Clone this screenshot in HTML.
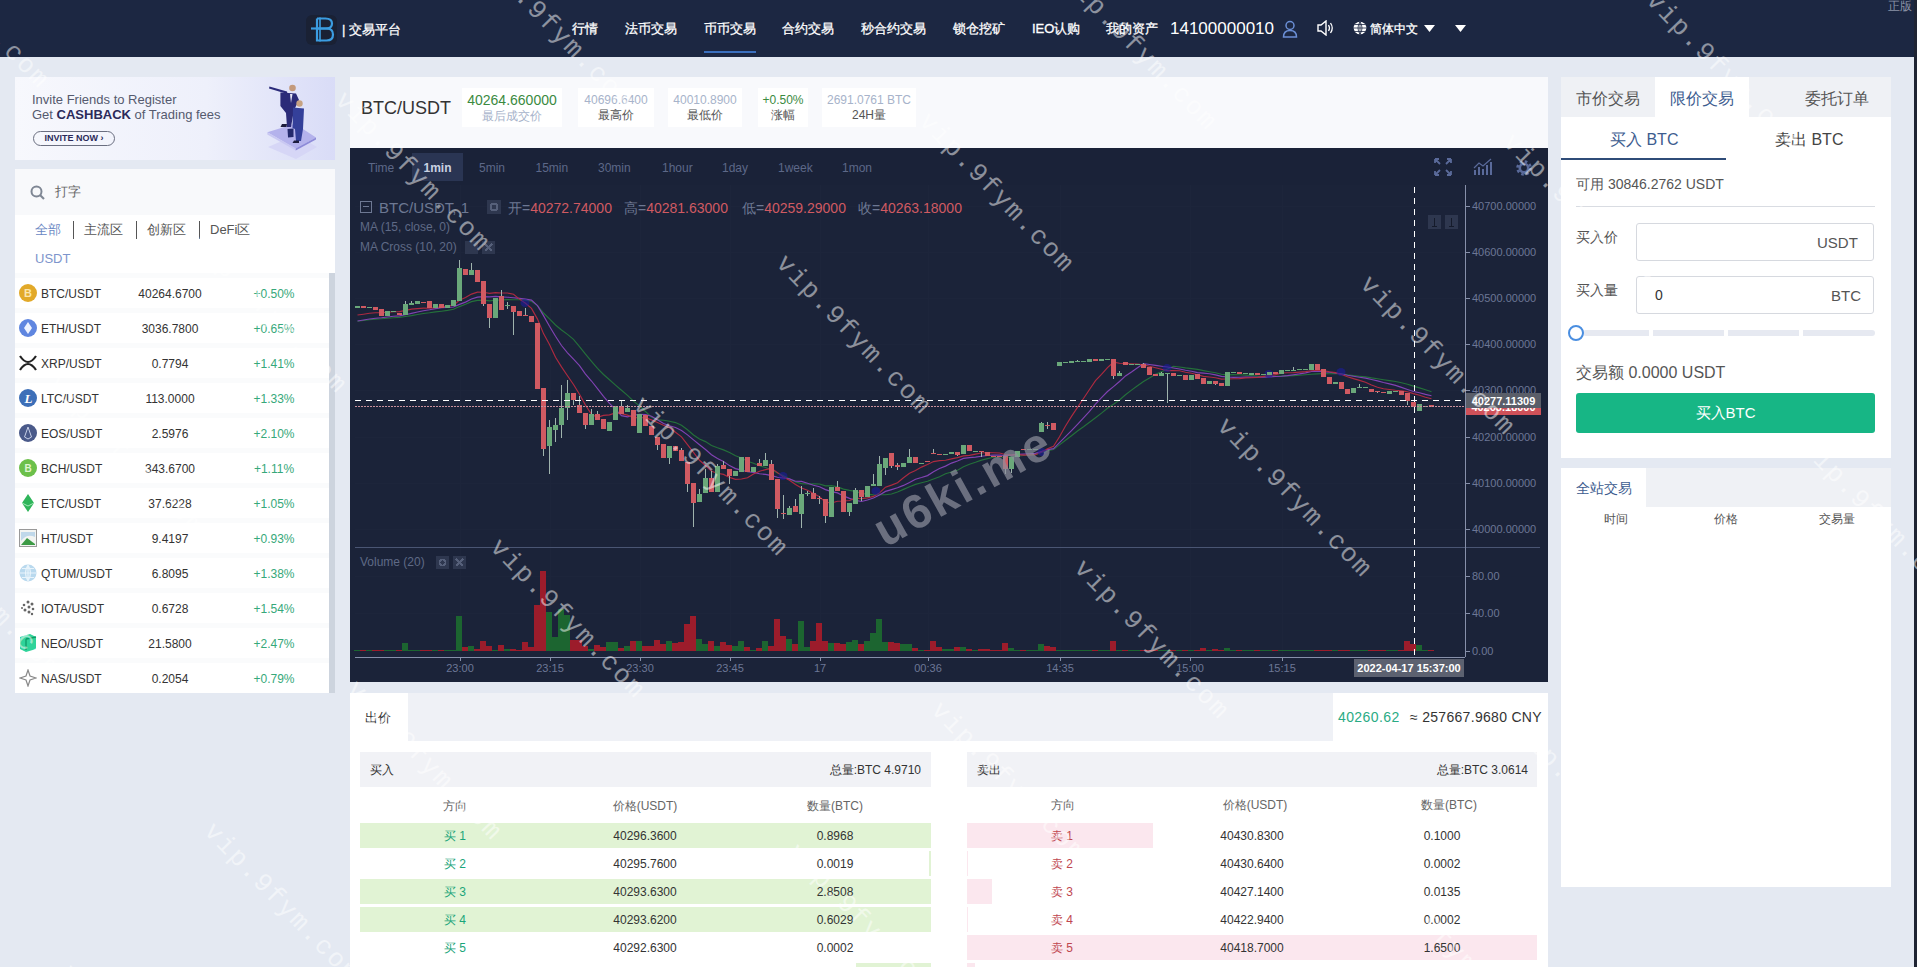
<!DOCTYPE html>
<html><head><meta charset="utf-8">
<style>
*{margin:0;padding:0;box-sizing:border-box}
html,body{width:1917px;height:967px;overflow:hidden}
body{background:#e4e9f2;font-family:"Liberation Sans",sans-serif;position:relative;color:#333}
.a{position:absolute}
.hdr{left:0;top:0;width:1917px;height:57px;background:#1c2742}
.nav{color:#fff;font-size:13px;top:21px;line-height:16px;white-space:nowrap;-webkit-text-stroke:0.3px #fff}
.panel{background:#fff}
.t12{font-size:12px}
.row{position:absolute;left:0;width:314px;height:35px;font-size:12px;color:#333}
.row span{position:absolute;top:10px;line-height:15px}
.cn{font-size:12px;color:#333;line-height:14px;white-space:nowrap}
.ob{font-size:12px;color:#333;line-height:15px;white-space:nowrap}
.obh{font-size:12px;color:#666;line-height:15px;white-space:nowrap}
</style></head><body>
<!-- header -->
<div class="a hdr">
  <svg class="a" style="left:305px;top:14px" width="33" height="32" viewBox="0 0 33 32">
    <rect x="1" y="1" width="31" height="30" rx="6" fill="#1a2134"/>
    <g fill="none" stroke="#3b9de2" stroke-width="2.2">
      <path d="M12 4.5 V26.5 H21.5 Q28 26.5 28 20.5 Q28 14.5 21.5 14.5 H12 M12 4.5 H20.5 Q27 4.5 27 9.5 Q27 14.5 21 14.5"/>
      <path d="M15 3.5 V27.5" stroke-width="1.6"/>
      <path d="M6 14.5 H25" />
    </g>
  </svg>
  <div class="a nav" style="left:342px;top:22px">| 交易平台</div>
  <div class="a nav" style="left:572px">行情</div>
  <div class="a nav" style="left:625px">法币交易</div>
  <div class="a nav" style="left:704px">币币交易</div>
  <div class="a" style="left:704px;top:51px;width:52px;height:2px;background:#3a6fbe"></div>
  <div class="a nav" style="left:782px">合约交易</div>
  <div class="a nav" style="left:861px">秒合约交易</div>
  <div class="a nav" style="left:953px">锁仓挖矿</div>
  <div class="a nav" style="left:1032px">IEO认购</div>
  <div class="a nav" style="left:1106px">我的资产</div>
  <div class="a nav" style="left:1170px;top:19px;font-size:17px;line-height:20px;-webkit-text-stroke:0">14100000010</div>
  <svg class="a" style="left:1282px;top:20px" width="16" height="18" viewBox="0 0 16 18"><circle cx="8" cy="5.5" r="4" fill="none" stroke="#6b8fd6" stroke-width="1.5"/><path d="M1.5 17 Q1.5 10.5 8 10.5 Q14.5 10.5 14.5 17 Z" fill="none" stroke="#6b8fd6" stroke-width="1.5"/></svg>
  <svg class="a" style="left:1317px;top:20px" width="18" height="16" viewBox="0 0 18 16"><path d="M1 5 H4 L9 1 V15 L4 11 H1 Z" fill="none" stroke="#fff" stroke-width="1.4"/><path d="M11.5 5 Q13.5 8 11.5 11 M13.5 3 Q17 8 13.5 13" fill="none" stroke="#fff" stroke-width="1.3"/></svg>
  <svg class="a" style="left:1353px;top:21px" width="14" height="14" viewBox="0 0 14 14"><circle cx="7" cy="7" r="6.3" fill="#fff"/><path d="M0.7 7 H13.3 M7 0.7 V13.3 M2 3.5 H12 M2 10.5 H12 M7 0.7 Q3 7 7 13.3 M7 0.7 Q11 7 7 13.3" stroke="#1c2742" stroke-width="0.8" fill="none"/></svg>
  <div class="a nav" style="left:1370px;font-size:12px">简体中文</div>
  <svg class="a" style="left:1424px;top:25px" width="11" height="8"><path d="M0 0 H11 L5.5 7 Z" fill="#fff"/></svg>
  <svg class="a" style="left:1455px;top:25px" width="11" height="8"><path d="M0 0 H11 L5.5 7 Z" fill="#fff"/></svg>
  <div class="a" style="left:1888px;top:-2px;font-size:12px;color:#8b93a7">正版</div>
</div>
<div class="a" style="left:1914px;top:0;width:3px;height:967px;background:#1f2433"></div>

<!-- left column -->
<div class="a" style="left:15px;top:77px;width:320px;height:83px;background:linear-gradient(90deg,#f7f8fd 0%,#eef0fb 60%,#d9dcf7 100%)">
  <div class="a" style="left:17px;top:16px;font-size:13px;color:#555a6e;line-height:14px">Invite Friends to Register</div>
  <div class="a" style="left:17px;top:31px;font-size:13px;color:#555a6e;line-height:14px">Get <b style="color:#2b2a5a">CASHBACK</b> of Trading fees</div>
  <div class="a" style="left:18px;top:54px;width:82px;height:15px;border:1px solid #6a6e80;border-radius:8px;font-size:9px;font-weight:bold;color:#2b2a5a;line-height:13px;text-align:center">INVITE NOW ›</div>
  <svg class="a" style="left:250px;top:6px" width="70" height="77" viewBox="0 0 70 77">
    <path d="M3 64 L31 52 L52 64 L31 76 Z" fill="#d6d6f6"/>
    <path d="M2.3 49.3 L29.9 40.8 L51 54.4 L30.7 65.4 Z" fill="#b4b2ec"/>
    <path d="M2.3 49.3 L30.7 65.4 L30.7 67.5 L2.3 51.4 Z" fill="#c9c8f2"/>
    <path d="M30.7 65.4 L51 54.4 L51 56.5 L30.7 67.5 Z" fill="#8d8ad8"/>
    <path d="M4.4 3.5 L22 8.5 L22.5 11 L4 5.5 Z" fill="#2b2b7a"/>
    <circle cx="27.5" cy="5" r="3.3" fill="#c49a7c"/>
    <path d="M15.4 9.4 L31 10.5 L34 17 L29 27 L26 44 L22 44 L21 30 L15.4 23 Z" fill="#2b2b78"/>
    <path d="M25 11 L27.5 11 L26 20 Z" fill="#e6e6f4"/>
    <path d="M17 41 L22 41 L21.5 44 L15.5 44 Z" fill="#1c1c3c"/>
    <circle cx="34.5" cy="20.5" r="3.2" fill="#c6a282"/>
    <path d="M28 24.5 L39 25.5 L38 46 L36 58 L31 58 L30 46 L27.5 45 Z" fill="#34409a"/>
    <path d="M22.5 46 L28.5 45.5 L28.5 54 L23 54.5 Z" fill="#23296c"/>
    <path d="M29 57.5 L34 57.5 L34 60 L27.5 60 Z" fill="#1c1c3c"/>
  </svg>
</div>
<div class="a" style="left:15px;top:169px;width:320px;height:46px;background:#f8f9fb">
  <svg class="a" style="left:15px;top:16px" width="16" height="16" viewBox="0 0 16 16"><circle cx="6.5" cy="6.5" r="5" fill="none" stroke="#7f8794" stroke-width="2"/><path d="M10 10 L14 14" stroke="#7f8794" stroke-width="2.2"/></svg>
  <div class="a" style="left:40px;top:15px;font-size:13px;color:#666;line-height:15px">打字</div>
</div>
<div class="a panel" style="left:15px;top:215px;width:320px;height:58px">
  <div class="a" style="left:20px;top:7px;font-size:13px;color:#6b88c4;line-height:15px">全部</div>
  <div class="a" style="left:58px;top:6px;width:1px;height:18px;background:#555"></div>
  <div class="a" style="left:69px;top:7px;font-size:13px;color:#555;line-height:15px">主流区</div>
  <div class="a" style="left:121px;top:6px;width:1px;height:18px;background:#555"></div>
  <div class="a" style="left:132px;top:7px;font-size:13px;color:#555;line-height:15px">创新区</div>
  <div class="a" style="left:184px;top:6px;width:1px;height:18px;background:#555"></div>
  <div class="a" style="left:195px;top:7px;font-size:13px;color:#555;line-height:15px">DeFi区</div>
  <div class="a" style="left:20px;top:36px;font-size:13px;color:#7d95cc;line-height:15px">USDT</div>
</div>
<div class="a" style="left:15px;top:273px;width:320px;height:420px;background:#fafbfc">
<div class="a" style="left:0;top:5px;width:314px;height:30px;background:#fff"></div>
<svg class="a" style="left:4px;top:11px" width="18" height="18" viewBox="0 0 18 18"><circle cx="9" cy="9" r="9" fill="#e2a929"/><text x="9" y="13" font-size="11" font-weight="bold" fill="#fbe6b0" text-anchor="middle" font-family="Liberation Sans">B</text></svg>
<div class="a cn" style="left:26px;top:14px">BTC/USDT</div>
<div class="a cn" style="left:105px;top:14px;width:100px;text-align:center">40264.6700</div>
<div class="a cn" style="left:225px;top:14px;width:68px;text-align:center;color:#36a87a">+0.50%</div>
<div class="a" style="left:0;top:40px;width:314px;height:30px;background:#fff"></div>
<svg class="a" style="left:4px;top:46px" width="18" height="18" viewBox="0 0 18 18"><circle cx="9" cy="9" r="9" fill="#5f86e0"/><path d="M9 3 L13 9 L9 15 L5 9 Z" fill="#eef3ff"/></svg>
<div class="a cn" style="left:26px;top:49px">ETH/USDT</div>
<div class="a cn" style="left:105px;top:49px;width:100px;text-align:center">3036.7800</div>
<div class="a cn" style="left:225px;top:49px;width:68px;text-align:center;color:#36a87a">+0.65%</div>
<div class="a" style="left:0;top:75px;width:314px;height:30px;background:#fff"></div>
<svg class="a" style="left:4px;top:81px" width="18" height="18" viewBox="0 0 18 18"><path d="M1 2 Q9 14 17 2 M1 16 Q9 4 17 16" stroke="#222" stroke-width="2.2" fill="none"/></svg>
<div class="a cn" style="left:26px;top:84px">XRP/USDT</div>
<div class="a cn" style="left:105px;top:84px;width:100px;text-align:center">0.7794</div>
<div class="a cn" style="left:225px;top:84px;width:68px;text-align:center;color:#36a87a">+1.41%</div>
<div class="a" style="left:0;top:110px;width:314px;height:30px;background:#fff"></div>
<svg class="a" style="left:4px;top:116px" width="18" height="18" viewBox="0 0 18 18"><circle cx="9" cy="9" r="9" fill="#3d6fb8"/><text x="9.5" y="14" font-size="13" font-weight="bold" fill="#fff" text-anchor="middle" font-family="Liberation Serif" font-style="italic">L</text></svg>
<div class="a cn" style="left:26px;top:119px">LTC/USDT</div>
<div class="a cn" style="left:105px;top:119px;width:100px;text-align:center">113.0000</div>
<div class="a cn" style="left:225px;top:119px;width:68px;text-align:center;color:#36a87a">+1.33%</div>
<div class="a" style="left:0;top:145px;width:314px;height:30px;background:#fff"></div>
<svg class="a" style="left:4px;top:151px" width="18" height="18" viewBox="0 0 18 18"><circle cx="9" cy="9" r="9" fill="#4a5a8a"/><path d="M9 3 L12.5 13 L9 15 L5.5 13 Z" fill="none" stroke="#c8d0e8" stroke-width="1"/></svg>
<div class="a cn" style="left:26px;top:154px">EOS/USDT</div>
<div class="a cn" style="left:105px;top:154px;width:100px;text-align:center">2.5976</div>
<div class="a cn" style="left:225px;top:154px;width:68px;text-align:center;color:#36a87a">+2.10%</div>
<div class="a" style="left:0;top:180px;width:314px;height:30px;background:#fff"></div>
<svg class="a" style="left:4px;top:186px" width="18" height="18" viewBox="0 0 18 18"><circle cx="9" cy="9" r="9" fill="#6cc04a"/><text x="9" y="13" font-size="10" font-weight="bold" fill="#dff5d0" text-anchor="middle" font-family="Liberation Sans">B</text></svg>
<div class="a cn" style="left:26px;top:189px">BCH/USDT</div>
<div class="a cn" style="left:105px;top:189px;width:100px;text-align:center">343.6700</div>
<div class="a cn" style="left:225px;top:189px;width:68px;text-align:center;color:#36a87a">+1.11%</div>
<div class="a" style="left:0;top:215px;width:314px;height:30px;background:#fff"></div>
<svg class="a" style="left:4px;top:221px" width="18" height="18" viewBox="0 0 18 18"><path d="M9 0 L15 9 L9 18 L3 9 Z" fill="#2fb55a"/><path d="M3 9 L9 12 L15 9" stroke="#a5e8b8" stroke-width="1" fill="none"/></svg>
<div class="a cn" style="left:26px;top:224px">ETC/USDT</div>
<div class="a cn" style="left:105px;top:224px;width:100px;text-align:center">37.6228</div>
<div class="a cn" style="left:225px;top:224px;width:68px;text-align:center;color:#36a87a">+1.05%</div>
<div class="a" style="left:0;top:250px;width:314px;height:30px;background:#fff"></div>
<svg class="a" style="left:4px;top:256px" width="18" height="18" viewBox="0 0 18 18"><rect x="0.5" y="0.5" width="17" height="17" fill="#f2f4f2" stroke="#999"/><path d="M2 16 L8 9 L16 15 V16 Z" fill="#3c9a45"/><path d="M2 12 Q8 4 16 8 V3 H2 Z" fill="#bfd8ea"/></svg>
<div class="a cn" style="left:26px;top:259px">HT/USDT</div>
<div class="a cn" style="left:105px;top:259px;width:100px;text-align:center">9.4197</div>
<div class="a cn" style="left:225px;top:259px;width:68px;text-align:center;color:#36a87a">+0.93%</div>
<div class="a" style="left:0;top:285px;width:314px;height:30px;background:#fff"></div>
<svg class="a" style="left:4px;top:291px" width="18" height="18" viewBox="0 0 18 18"><circle cx="9" cy="9" r="8.5" fill="#b9d9ee"/><path d="M1 9 H17 M9 1 V17 M3 4.5 H15 M3 13.5 H15 M9 1 Q4 9 9 17 M9 1 Q14 9 9 17" stroke="#e9f4fb" stroke-width="1.2" fill="none"/></svg>
<div class="a cn" style="left:26px;top:294px">QTUM/USDT</div>
<div class="a cn" style="left:105px;top:294px;width:100px;text-align:center">6.8095</div>
<div class="a cn" style="left:225px;top:294px;width:68px;text-align:center;color:#36a87a">+1.38%</div>
<div class="a" style="left:0;top:320px;width:314px;height:30px;background:#fff"></div>
<svg class="a" style="left:4px;top:326px" width="18" height="18" viewBox="0 0 18 18"><g fill="#666"><circle cx="9" cy="3" r="1.5"/><circle cx="13" cy="5" r="1.5"/><circle cx="5" cy="6" r="1.3"/><circle cx="10" cy="8" r="1.5"/><circle cx="14" cy="10" r="1.3"/><circle cx="6" cy="11" r="1.5"/><circle cx="10" cy="13" r="1.5"/><circle cx="13" cy="15" r="1.2"/><circle cx="3" cy="9" r="1"/></g></svg>
<div class="a cn" style="left:26px;top:329px">IOTA/USDT</div>
<div class="a cn" style="left:105px;top:329px;width:100px;text-align:center">0.6728</div>
<div class="a cn" style="left:225px;top:329px;width:68px;text-align:center;color:#36a87a">+1.54%</div>
<div class="a" style="left:0;top:355px;width:314px;height:30px;background:#fff"></div>
<svg class="a" style="left:4px;top:361px" width="18" height="18" viewBox="0 0 18 18"><path d="M1 3 L11 0 L17 3 V15 L7 18 L1 15 Z" fill="#2fd39a"/><path d="M7 5 V16 M7 5 L17 3" stroke="#0d9a68" stroke-width="1.3" fill="none"/></svg>
<div class="a cn" style="left:26px;top:364px">NEO/USDT</div>
<div class="a cn" style="left:105px;top:364px;width:100px;text-align:center">21.5800</div>
<div class="a cn" style="left:225px;top:364px;width:68px;text-align:center;color:#36a87a">+2.47%</div>
<div class="a" style="left:0;top:390px;width:314px;height:30px;background:#fff"></div>
<svg class="a" style="left:4px;top:396px" width="18" height="18" viewBox="0 0 18 18"><path d="M9 1 L11 7 L17 9 L11 11 L9 17 L7 11 L1 9 L7 7 Z" fill="none" stroke="#888" stroke-width="1.2"/></svg>
<div class="a cn" style="left:26px;top:399px">NAS/USDT</div>
<div class="a cn" style="left:105px;top:399px;width:100px;text-align:center">0.2054</div>
<div class="a cn" style="left:225px;top:399px;width:68px;text-align:center;color:#36a87a">+0.79%</div>
  <div class="a" style="left:314px;top:0;width:6px;height:420px;background:#cdd4de"></div>
</div>

<!-- middle -->
<div class="a" style="left:350px;top:77px;width:1198px;height:71px;background:#f8f9fc">
  <div class="a" style="left:11px;top:20px;font-size:18px;color:#333;line-height:22px">BTC/USDT</div>
  <div class="a panel" style="left:112px;top:11px;width:100px;height:39px"></div>
  <div class="a" style="left:115px;top:15px;width:94px;text-align:center;font-size:14px;color:#3b8a3f;line-height:16px">40264.660000</div>
  <div class="a" style="left:115px;top:32px;width:94px;text-align:center;font-size:12px;color:#a7b3ca;line-height:14px">最后成交价</div>
  <div class="a panel" style="left:228px;top:11px;width:76px;height:39px"></div>
  <div class="a" style="left:228px;top:16px;width:76px;text-align:center;font-size:12px;color:#a7b3ca;line-height:14px">40696.6400</div>
  <div class="a" style="left:228px;top:31px;width:76px;text-align:center;font-size:12px;color:#555;line-height:14px">最高价</div>
  <div class="a panel" style="left:318px;top:11px;width:74px;height:39px"></div>
  <div class="a" style="left:318px;top:16px;width:74px;text-align:center;font-size:12px;color:#a7b3ca;line-height:14px">40010.8900</div>
  <div class="a" style="left:318px;top:31px;width:74px;text-align:center;font-size:12px;color:#555;line-height:14px">最低价</div>
  <div class="a panel" style="left:408px;top:11px;width:50px;height:39px"></div>
  <div class="a" style="left:408px;top:16px;width:50px;text-align:center;font-size:12px;color:#3b8a3f;line-height:14px">+0.50%</div>
  <div class="a" style="left:408px;top:31px;width:50px;text-align:center;font-size:12px;color:#555;line-height:14px">涨幅</div>
  <div class="a panel" style="left:472px;top:11px;width:94px;height:39px"></div>
  <div class="a" style="left:472px;top:16px;width:94px;text-align:center;font-size:12px;color:#a7b3ca;line-height:14px">2691.0761 BTC</div>
  <div class="a" style="left:472px;top:31px;width:94px;text-align:center;font-size:12px;color:#555;line-height:14px">24H量</div>
</div>
<div class="a" style="left:350px;top:148px;width:1198px;height:534px;background:#1b2339;overflow:hidden">
<svg width="1198" height="534" viewBox="350 148 1198 534" style="position:absolute;left:0;top:0" shape-rendering="crispEdges">
<rect x="460" y="185" width="1" height="472" fill="#1d253b"/>
<rect x="550" y="185" width="1" height="472" fill="#1d253b"/>
<rect x="640" y="185" width="1" height="472" fill="#1d253b"/>
<rect x="730" y="185" width="1" height="472" fill="#1d253b"/>
<rect x="820" y="185" width="1" height="472" fill="#1d253b"/>
<rect x="928" y="185" width="1" height="472" fill="#1d253b"/>
<rect x="1060" y="185" width="1" height="472" fill="#1d253b"/>
<rect x="1190" y="185" width="1" height="472" fill="#1d253b"/>
<rect x="1282" y="185" width="1" height="472" fill="#1d253b"/>
<rect x="355" y="206" width="1110" height="1" fill="#1d253b"/>
<rect x="355" y="252" width="1110" height="1" fill="#1d253b"/>
<rect x="355" y="298" width="1110" height="1" fill="#1d253b"/>
<rect x="355" y="344" width="1110" height="1" fill="#1d253b"/>
<rect x="355" y="390" width="1110" height="1" fill="#1d253b"/>
<rect x="355" y="437" width="1110" height="1" fill="#1d253b"/>
<rect x="355" y="483" width="1110" height="1" fill="#1d253b"/>
<rect x="355" y="529" width="1110" height="1" fill="#1d253b"/>
<rect x="355" y="576" width="1110" height="1" fill="#1d253b"/>
<rect x="355" y="613" width="1110" height="1" fill="#1d253b"/>
<rect x="355" y="547" width="1185" height="1" fill="#4a5573"/>
<rect x="355" y="657" width="1110" height="1" fill="#8790aa"/>
<rect x="1465" y="185" width="1" height="472" fill="#8790aa"/>
<rect x="1466" y="206" width="4" height="1" fill="#8790aa"/>
<text x="1472" y="210" font-size="11" fill="#6c7796" font-family="Liberation Sans">40700.00000</text>
<rect x="1466" y="252" width="4" height="1" fill="#8790aa"/>
<text x="1472" y="256" font-size="11" fill="#6c7796" font-family="Liberation Sans">40600.00000</text>
<rect x="1466" y="298" width="4" height="1" fill="#8790aa"/>
<text x="1472" y="302" font-size="11" fill="#6c7796" font-family="Liberation Sans">40500.00000</text>
<rect x="1466" y="344" width="4" height="1" fill="#8790aa"/>
<text x="1472" y="348" font-size="11" fill="#6c7796" font-family="Liberation Sans">40400.00000</text>
<rect x="1466" y="390" width="4" height="1" fill="#8790aa"/>
<text x="1472" y="394" font-size="11" fill="#6c7796" font-family="Liberation Sans">40300.00000</text>
<rect x="1466" y="437" width="4" height="1" fill="#8790aa"/>
<text x="1472" y="441" font-size="11" fill="#6c7796" font-family="Liberation Sans">40200.00000</text>
<rect x="1466" y="483" width="4" height="1" fill="#8790aa"/>
<text x="1472" y="487" font-size="11" fill="#6c7796" font-family="Liberation Sans">40100.00000</text>
<rect x="1466" y="529" width="4" height="1" fill="#8790aa"/>
<text x="1472" y="533" font-size="11" fill="#6c7796" font-family="Liberation Sans">40000.00000</text>
<rect x="1466" y="576" width="4" height="1" fill="#8790aa"/>
<text x="1472" y="580" font-size="11" fill="#6c7796" font-family="Liberation Sans">80.00</text>
<rect x="1466" y="613" width="4" height="1" fill="#8790aa"/>
<text x="1472" y="617" font-size="11" fill="#6c7796" font-family="Liberation Sans">40.00</text>
<rect x="1466" y="651" width="4" height="1" fill="#8790aa"/>
<text x="1472" y="655" font-size="11" fill="#6c7796" font-family="Liberation Sans">0.00</text>
<rect x="460" y="657" width="1" height="4" fill="#8790aa"/>
<text x="460" y="672" font-size="11" fill="#6c7796" font-family="Liberation Sans" text-anchor="middle">23:00</text>
<rect x="550" y="657" width="1" height="4" fill="#8790aa"/>
<text x="550" y="672" font-size="11" fill="#6c7796" font-family="Liberation Sans" text-anchor="middle">23:15</text>
<rect x="640" y="657" width="1" height="4" fill="#8790aa"/>
<text x="640" y="672" font-size="11" fill="#6c7796" font-family="Liberation Sans" text-anchor="middle">23:30</text>
<rect x="730" y="657" width="1" height="4" fill="#8790aa"/>
<text x="730" y="672" font-size="11" fill="#6c7796" font-family="Liberation Sans" text-anchor="middle">23:45</text>
<rect x="820" y="657" width="1" height="4" fill="#8790aa"/>
<text x="820" y="672" font-size="11" fill="#6c7796" font-family="Liberation Sans" text-anchor="middle">17</text>
<rect x="928" y="657" width="1" height="4" fill="#8790aa"/>
<text x="928" y="672" font-size="11" fill="#6c7796" font-family="Liberation Sans" text-anchor="middle">00:36</text>
<rect x="1060" y="657" width="1" height="4" fill="#8790aa"/>
<text x="1060" y="672" font-size="11" fill="#6c7796" font-family="Liberation Sans" text-anchor="middle">14:35</text>
<rect x="1190" y="657" width="1" height="4" fill="#8790aa"/>
<text x="1190" y="672" font-size="11" fill="#6c7796" font-family="Liberation Sans" text-anchor="middle">15:00</text>
<rect x="1282" y="657" width="1" height="4" fill="#8790aa"/>
<text x="1282" y="672" font-size="11" fill="#6c7796" font-family="Liberation Sans" text-anchor="middle">15:15</text>
<rect x="354" y="650.2" width="6" height="0.8" fill="#1c6530"/>
<rect x="360" y="650.2" width="6" height="0.8" fill="#9c1c2b"/>
<rect x="366" y="650.2" width="6" height="0.8" fill="#1c6530"/>
<rect x="372" y="650.2" width="6" height="0.8" fill="#9c1c2b"/>
<rect x="378" y="650.2" width="6" height="0.8" fill="#9c1c2b"/>
<rect x="384" y="650.2" width="6" height="0.8" fill="#1c6530"/>
<rect x="390" y="650.2" width="6" height="0.8" fill="#1c6530"/>
<rect x="396" y="650.2" width="6" height="0.8" fill="#9c1c2b"/>
<rect x="402" y="643.0" width="6" height="8.0" fill="#1c6530"/>
<rect x="408" y="650.2" width="6" height="0.8" fill="#1c6530"/>
<rect x="414" y="650.2" width="6" height="0.8" fill="#1c6530"/>
<rect x="420" y="650.2" width="6" height="0.8" fill="#9c1c2b"/>
<rect x="426" y="650.2" width="6" height="0.8" fill="#9c1c2b"/>
<rect x="432" y="650.2" width="6" height="0.8" fill="#1c6530"/>
<rect x="438" y="650.2" width="6" height="0.8" fill="#9c1c2b"/>
<rect x="444" y="650.2" width="6" height="0.8" fill="#1c6530"/>
<rect x="450" y="650.2" width="6" height="0.8" fill="#1c6530"/>
<rect x="456" y="616.0" width="6" height="35.0" fill="#1c6530"/>
<rect x="462" y="647.0" width="6" height="4.0" fill="#9c1c2b"/>
<rect x="468" y="646.3" width="6" height="4.7" fill="#1c6530"/>
<rect x="474" y="648.7" width="6" height="2.3" fill="#9c1c2b"/>
<rect x="480" y="641.3" width="6" height="9.7" fill="#9c1c2b"/>
<rect x="486" y="646.0" width="6" height="5.0" fill="#9c1c2b"/>
<rect x="492" y="650.0" width="6" height="1.0" fill="#1c6530"/>
<rect x="498" y="644.7" width="6" height="6.3" fill="#9c1c2b"/>
<rect x="504" y="648.7" width="6" height="2.3" fill="#1c6530"/>
<rect x="510" y="649.0" width="6" height="2.0" fill="#9c1c2b"/>
<rect x="516" y="649.5" width="6" height="1.5" fill="#9c1c2b"/>
<rect x="522" y="642.4" width="6" height="8.6" fill="#9c1c2b"/>
<rect x="528" y="647.0" width="6" height="4.0" fill="#9c1c2b"/>
<rect x="534" y="605.0" width="6" height="46.0" fill="#9c1c2b"/>
<rect x="540" y="571.0" width="6" height="80.0" fill="#9c1c2b"/>
<rect x="546" y="612.0" width="6" height="39.0" fill="#1c6530"/>
<rect x="552" y="637.0" width="6" height="14.0" fill="#1c6530"/>
<rect x="558" y="609.0" width="6" height="42.0" fill="#1c6530"/>
<rect x="564" y="615.0" width="6" height="36.0" fill="#1c6530"/>
<rect x="570" y="640.0" width="6" height="11.0" fill="#9c1c2b"/>
<rect x="576" y="640.0" width="6" height="11.0" fill="#9c1c2b"/>
<rect x="582" y="645.5" width="6" height="5.5" fill="#9c1c2b"/>
<rect x="588" y="649.0" width="6" height="2.0" fill="#1c6530"/>
<rect x="594" y="644.7" width="6" height="6.3" fill="#9c1c2b"/>
<rect x="600" y="647.0" width="6" height="4.0" fill="#9c1c2b"/>
<rect x="606" y="642.4" width="6" height="8.6" fill="#1c6530"/>
<rect x="612" y="642.4" width="6" height="8.6" fill="#1c6530"/>
<rect x="618" y="648.0" width="6" height="3.0" fill="#9c1c2b"/>
<rect x="624" y="646.0" width="6" height="5.0" fill="#1c6530"/>
<rect x="630" y="641.0" width="6" height="10.0" fill="#9c1c2b"/>
<rect x="636" y="641.0" width="6" height="10.0" fill="#1c6530"/>
<rect x="642" y="646.3" width="6" height="4.7" fill="#9c1c2b"/>
<rect x="648" y="645.5" width="6" height="5.5" fill="#9c1c2b"/>
<rect x="654" y="640.0" width="6" height="11.0" fill="#9c1c2b"/>
<rect x="660" y="644.0" width="6" height="7.0" fill="#9c1c2b"/>
<rect x="666" y="641.0" width="6" height="10.0" fill="#1c6530"/>
<rect x="672" y="643.2" width="6" height="7.8" fill="#9c1c2b"/>
<rect x="678" y="641.6" width="6" height="9.4" fill="#9c1c2b"/>
<rect x="684" y="623.6" width="6" height="27.4" fill="#9c1c2b"/>
<rect x="690" y="616.0" width="6" height="35.0" fill="#9c1c2b"/>
<rect x="696" y="639.0" width="6" height="12.0" fill="#1c6530"/>
<rect x="702" y="644.0" width="6" height="7.0" fill="#1c6530"/>
<rect x="708" y="641.0" width="6" height="10.0" fill="#9c1c2b"/>
<rect x="714" y="646.3" width="6" height="4.7" fill="#1c6530"/>
<rect x="720" y="642.4" width="6" height="8.6" fill="#9c1c2b"/>
<rect x="726" y="644.7" width="6" height="6.3" fill="#9c1c2b"/>
<rect x="732" y="646.3" width="6" height="4.7" fill="#1c6530"/>
<rect x="738" y="641.0" width="6" height="10.0" fill="#1c6530"/>
<rect x="744" y="647.0" width="6" height="4.0" fill="#9c1c2b"/>
<rect x="750" y="650.0" width="6" height="1.0" fill="#1c6530"/>
<rect x="756" y="648.0" width="6" height="3.0" fill="#9c1c2b"/>
<rect x="762" y="641.0" width="6" height="10.0" fill="#1c6530"/>
<rect x="768" y="646.3" width="6" height="4.7" fill="#9c1c2b"/>
<rect x="774" y="619.0" width="6" height="32.0" fill="#9c1c2b"/>
<rect x="780" y="636.0" width="6" height="15.0" fill="#9c1c2b"/>
<rect x="786" y="639.3" width="6" height="11.7" fill="#1c6530"/>
<rect x="792" y="644.0" width="6" height="7.0" fill="#9c1c2b"/>
<rect x="798" y="621.0" width="6" height="30.0" fill="#1c6530"/>
<rect x="804" y="647.0" width="6" height="4.0" fill="#1c6530"/>
<rect x="810" y="641.0" width="6" height="10.0" fill="#9c1c2b"/>
<rect x="816" y="623.0" width="6" height="28.0" fill="#9c1c2b"/>
<rect x="822" y="641.0" width="6" height="10.0" fill="#9c1c2b"/>
<rect x="828" y="643.2" width="6" height="7.8" fill="#1c6530"/>
<rect x="834" y="643.2" width="6" height="7.8" fill="#9c1c2b"/>
<rect x="840" y="644.0" width="6" height="7.0" fill="#9c1c2b"/>
<rect x="846" y="642.4" width="6" height="8.6" fill="#1c6530"/>
<rect x="852" y="640.0" width="6" height="11.0" fill="#1c6530"/>
<rect x="858" y="644.0" width="6" height="7.0" fill="#9c1c2b"/>
<rect x="864" y="641.0" width="6" height="10.0" fill="#1c6530"/>
<rect x="870" y="633.0" width="6" height="18.0" fill="#1c6530"/>
<rect x="876" y="619.0" width="6" height="32.0" fill="#1c6530"/>
<rect x="882" y="641.6" width="6" height="9.4" fill="#1c6530"/>
<rect x="888" y="642.4" width="6" height="8.6" fill="#9c1c2b"/>
<rect x="894" y="643.0" width="6" height="8.0" fill="#9c1c2b"/>
<rect x="900" y="644.0" width="6" height="7.0" fill="#1c6530"/>
<rect x="906" y="643.5" width="6" height="7.5" fill="#1c6530"/>
<rect x="912" y="648.0" width="6" height="3.0" fill="#9c1c2b"/>
<rect x="918" y="650.0" width="6" height="1.0" fill="#1c6530"/>
<rect x="924" y="650.0" width="6" height="1.0" fill="#9c1c2b"/>
<rect x="930" y="640.5" width="6" height="10.5" fill="#9c1c2b"/>
<rect x="936" y="647.0" width="6" height="4.0" fill="#9c1c2b"/>
<rect x="942" y="648.7" width="6" height="2.3" fill="#1c6530"/>
<rect x="948" y="648.7" width="6" height="2.3" fill="#1c6530"/>
<rect x="954" y="646.8" width="6" height="4.2" fill="#9c1c2b"/>
<rect x="960" y="647.0" width="6" height="4.0" fill="#1c6530"/>
<rect x="966" y="648.7" width="6" height="2.3" fill="#9c1c2b"/>
<rect x="972" y="650.0" width="6" height="1.0" fill="#1c6530"/>
<rect x="978" y="648.7" width="6" height="2.3" fill="#9c1c2b"/>
<rect x="984" y="649.4" width="6" height="1.6" fill="#9c1c2b"/>
<rect x="990" y="650.0" width="6" height="1.0" fill="#9c1c2b"/>
<rect x="996" y="650.0" width="6" height="1.0" fill="#9c1c2b"/>
<rect x="1002" y="643.2" width="6" height="7.8" fill="#9c1c2b"/>
<rect x="1008" y="648.4" width="6" height="2.6" fill="#1c6530"/>
<rect x="1014" y="650.0" width="6" height="1.0" fill="#1c6530"/>
<rect x="1020" y="650.0" width="6" height="1.0" fill="#9c1c2b"/>
<rect x="1026" y="650.0" width="6" height="1.0" fill="#1c6530"/>
<rect x="1032" y="650.0" width="6" height="1.0" fill="#1c6530"/>
<rect x="1038" y="643.6" width="6" height="7.4" fill="#1c6530"/>
<rect x="1044" y="646.0" width="6" height="5.0" fill="#9c1c2b"/>
<rect x="1050" y="646.8" width="6" height="4.2" fill="#9c1c2b"/>
<rect x="1056" y="650.2" width="6" height="0.8" fill="#1c6530"/>
<rect x="1062" y="650.2" width="6" height="0.8" fill="#1c6530"/>
<rect x="1068" y="650.2" width="6" height="0.8" fill="#1c6530"/>
<rect x="1074" y="650.2" width="6" height="0.8" fill="#1c6530"/>
<rect x="1080" y="650.2" width="6" height="0.8" fill="#1c6530"/>
<rect x="1086" y="650.2" width="6" height="0.8" fill="#1c6530"/>
<rect x="1092" y="650.2" width="6" height="0.8" fill="#9c1c2b"/>
<rect x="1098" y="650.2" width="6" height="0.8" fill="#1c6530"/>
<rect x="1104" y="650.2" width="6" height="0.8" fill="#1c6530"/>
<rect x="1110" y="641.0" width="6" height="10.0" fill="#9c1c2b"/>
<rect x="1116" y="650.2" width="6" height="0.8" fill="#1c6530"/>
<rect x="1122" y="650.2" width="6" height="0.8" fill="#9c1c2b"/>
<rect x="1128" y="650.2" width="6" height="0.8" fill="#1c6530"/>
<rect x="1134" y="650.2" width="6" height="0.8" fill="#1c6530"/>
<rect x="1140" y="650.2" width="6" height="0.8" fill="#9c1c2b"/>
<rect x="1146" y="650.2" width="6" height="0.8" fill="#9c1c2b"/>
<rect x="1152" y="650.2" width="6" height="0.8" fill="#9c1c2b"/>
<rect x="1158" y="650.2" width="6" height="0.8" fill="#1c6530"/>
<rect x="1164" y="649.5" width="6" height="1.5" fill="#1c6530"/>
<rect x="1170" y="650.2" width="6" height="0.8" fill="#9c1c2b"/>
<rect x="1176" y="650.2" width="6" height="0.8" fill="#1c6530"/>
<rect x="1182" y="650.2" width="6" height="0.8" fill="#9c1c2b"/>
<rect x="1188" y="650.2" width="6" height="0.8" fill="#1c6530"/>
<rect x="1194" y="650.2" width="6" height="0.8" fill="#9c1c2b"/>
<rect x="1200" y="648.3" width="6" height="2.7" fill="#9c1c2b"/>
<rect x="1206" y="650.2" width="6" height="0.8" fill="#1c6530"/>
<rect x="1212" y="649.0" width="6" height="2.0" fill="#9c1c2b"/>
<rect x="1218" y="650.2" width="6" height="0.8" fill="#9c1c2b"/>
<rect x="1224" y="647.5" width="6" height="3.5" fill="#1c6530"/>
<rect x="1230" y="650.2" width="6" height="0.8" fill="#1c6530"/>
<rect x="1236" y="650.2" width="6" height="0.8" fill="#9c1c2b"/>
<rect x="1242" y="650.2" width="6" height="0.8" fill="#1c6530"/>
<rect x="1248" y="650.2" width="6" height="0.8" fill="#1c6530"/>
<rect x="1254" y="650.2" width="6" height="0.8" fill="#9c1c2b"/>
<rect x="1260" y="650.2" width="6" height="0.8" fill="#1c6530"/>
<rect x="1266" y="650.2" width="6" height="0.8" fill="#1c6530"/>
<rect x="1272" y="650.2" width="6" height="0.8" fill="#9c1c2b"/>
<rect x="1278" y="649.5" width="6" height="1.5" fill="#1c6530"/>
<rect x="1284" y="650.2" width="6" height="0.8" fill="#1c6530"/>
<rect x="1290" y="650.2" width="6" height="0.8" fill="#1c6530"/>
<rect x="1296" y="650.2" width="6" height="0.8" fill="#1c6530"/>
<rect x="1302" y="650.2" width="6" height="0.8" fill="#1c6530"/>
<rect x="1308" y="650.2" width="6" height="0.8" fill="#1c6530"/>
<rect x="1314" y="650.2" width="6" height="0.8" fill="#9c1c2b"/>
<rect x="1320" y="650.2" width="6" height="0.8" fill="#9c1c2b"/>
<rect x="1326" y="650.2" width="6" height="0.8" fill="#9c1c2b"/>
<rect x="1332" y="650.2" width="6" height="0.8" fill="#1c6530"/>
<rect x="1338" y="650.2" width="6" height="0.8" fill="#9c1c2b"/>
<rect x="1344" y="650.2" width="6" height="0.8" fill="#9c1c2b"/>
<rect x="1350" y="650.2" width="6" height="0.8" fill="#1c6530"/>
<rect x="1356" y="650.2" width="6" height="0.8" fill="#1c6530"/>
<rect x="1362" y="650.2" width="6" height="0.8" fill="#1c6530"/>
<rect x="1368" y="650.2" width="6" height="0.8" fill="#9c1c2b"/>
<rect x="1374" y="650.2" width="6" height="0.8" fill="#9c1c2b"/>
<rect x="1380" y="650.2" width="6" height="0.8" fill="#9c1c2b"/>
<rect x="1386" y="650.2" width="6" height="0.8" fill="#1c6530"/>
<rect x="1392" y="650.2" width="6" height="0.8" fill="#1c6530"/>
<rect x="1398" y="650.2" width="6" height="0.8" fill="#9c1c2b"/>
<rect x="1404" y="641.0" width="6" height="10.0" fill="#9c1c2b"/>
<rect x="1410" y="643.6" width="6" height="7.4" fill="#9c1c2b"/>
<rect x="1416" y="645.0" width="6" height="6.0" fill="#1c6530"/>
<rect x="1422" y="649.5" width="6" height="1.5" fill="#1c6530"/>
<rect x="1428" y="650.0" width="6" height="1.0" fill="#9c1c2b"/>
<polyline points="357.5,321.2 363.5,320.5 369.5,319.8 375.5,319.1 381.5,318.8 387.5,318.3 393.5,317.7 399.5,317.4 405.5,316.5 411.5,315.6 417.5,314.5 423.5,313.5 429.5,312.8 435.5,311.9 441.5,311.2 447.5,310.4 453.5,309.3 459.5,306.6 465.5,304.2 471.5,301.6 477.5,300.4 483.5,300.2 489.5,300.8 495.5,300.2 501.5,299.9 507.5,299.6 513.5,299.7 519.5,299.7 525.5,300.3 531.5,301.2 537.5,305.6 543.5,313.0 549.5,318.9 555.5,325.0 561.5,330.0 567.5,334.4 573.5,339.4 579.5,346.6 585.5,354.2 591.5,361.4 597.5,368.3 603.5,374.5 609.5,379.7 615.5,385.1 621.5,390.3 627.5,395.4 633.5,401.1 639.5,405.9 645.5,411.5 651.5,417.1 657.5,419.9 663.5,420.3 669.5,421.3 675.5,422.6 681.5,425.3 687.5,429.8 693.5,435.0 699.5,439.0 705.5,441.6 711.5,445.5 717.5,447.8 723.5,449.9 729.5,452.6 735.5,455.8 741.5,458.0 747.5,461.2 753.5,463.2 759.5,465.8 765.5,467.5 771.5,469.8 777.5,472.9 783.5,475.8 789.5,478.9 795.5,481.9 801.5,483.6 807.5,484.0 813.5,483.8 819.5,484.0 825.5,485.9 831.5,485.7 837.5,486.9 843.5,489.1 849.5,490.4 855.5,491.4 861.5,493.4 867.5,494.1 873.5,494.9 879.5,494.8 885.5,494.7 891.5,494.0 897.5,492.0 903.5,489.4 909.5,486.8 915.5,484.4 921.5,482.8 927.5,481.2 933.5,479.0 939.5,476.8 945.5,473.7 951.5,472.0 957.5,470.2 963.5,466.8 969.5,464.3 975.5,462.3 981.5,460.1 987.5,458.6 993.5,457.2 999.5,456.8 1005.5,457.4 1011.5,456.9 1017.5,456.1 1023.5,455.5 1029.5,455.1 1035.5,454.4 1041.5,452.4 1047.5,450.7 1053.5,449.5 1059.5,444.9 1065.5,440.3 1071.5,435.7 1077.5,431.0 1083.5,426.8 1089.5,422.2 1095.5,417.7 1101.5,413.1 1107.5,408.2 1113.5,404.2 1119.5,400.0 1125.5,394.8 1131.5,390.1 1137.5,385.8 1143.5,381.6 1149.5,377.9 1155.5,374.2 1161.5,371.7 1167.5,369.1 1173.5,366.3 1179.5,367.0 1185.5,367.9 1191.5,368.6 1197.5,369.4 1203.5,370.6 1209.5,371.7 1215.5,372.8 1221.5,374.2 1227.5,374.8 1233.5,374.6 1239.5,374.7 1245.5,375.1 1251.5,375.5 1257.5,376.1 1263.5,376.4 1269.5,376.3 1275.5,376.2 1281.5,376.1 1287.5,375.9 1293.5,375.6 1299.5,375.3 1305.5,374.8 1311.5,374.3 1317.5,373.9 1323.5,373.5 1329.5,373.7 1335.5,373.6 1341.5,373.7 1347.5,374.8 1353.5,375.6 1359.5,376.2 1365.5,376.9 1371.5,377.9 1377.5,378.7 1383.5,379.7 1389.5,380.6 1395.5,381.5 1401.5,382.7 1407.5,384.3 1413.5,386.1 1419.5,387.9 1425.5,389.7 1431.5,391.8" fill="none" stroke="#24703a" stroke-width="1.15" shape-rendering="geometricPrecision"/>
<polyline points="357.5,321.0 363.5,320.0 369.5,319.0 375.5,318.2 381.5,317.8 387.5,317.0 393.5,316.3 399.5,315.9 405.5,314.7 411.5,313.4 417.5,312.0 423.5,310.7 429.5,309.8 435.5,308.6 441.5,307.6 447.5,307.5 453.5,307.0 459.5,304.4 465.5,302.1 471.5,299.0 477.5,297.1 483.5,296.6 489.5,296.8 495.5,296.4 501.5,296.9 507.5,297.2 513.5,297.8 519.5,298.4 525.5,299.1 531.5,300.1 537.5,305.7 543.5,315.6 549.5,326.3 555.5,336.3 561.5,345.5 567.5,352.8 573.5,359.2 579.5,365.6 585.5,374.1 591.5,381.0 597.5,388.6 603.5,396.4 609.5,403.4 615.5,409.4 621.5,415.6 627.5,416.8 633.5,415.3 639.5,414.4 645.5,414.5 651.5,416.3 657.5,419.8 663.5,423.6 669.5,425.8 675.5,427.5 681.5,430.6 687.5,434.9 693.5,439.9 699.5,444.7 705.5,449.5 711.5,454.7 717.5,458.5 723.5,461.5 729.5,465.6 735.5,468.6 741.5,470.1 747.5,471.8 753.5,472.4 759.5,473.8 765.5,474.4 771.5,475.6 777.5,477.3 783.5,478.0 789.5,478.9 795.5,481.2 801.5,481.4 807.5,483.2 813.5,485.2 819.5,486.7 825.5,489.6 831.5,491.6 837.5,492.9 843.5,495.9 849.5,498.4 855.5,500.4 861.5,501.5 867.5,500.0 873.5,498.0 879.5,495.1 885.5,491.4 891.5,489.6 897.5,487.8 903.5,485.4 909.5,482.6 915.5,479.2 921.5,477.5 927.5,475.6 933.5,471.8 939.5,468.5 945.5,466.1 951.5,463.1 957.5,461.0 963.5,458.4 969.5,457.6 975.5,457.1 981.5,456.2 987.5,455.5 993.5,455.1 999.5,455.1 1005.5,455.5 1011.5,455.1 1017.5,454.4 1023.5,454.1 1029.5,453.8 1035.5,453.4 1041.5,451.5 1047.5,449.6 1053.5,448.6 1059.5,442.7 1065.5,436.7 1071.5,430.7 1077.5,424.3 1083.5,417.9 1089.5,411.4 1095.5,404.2 1101.5,397.7 1107.5,391.5 1113.5,386.6 1119.5,381.5 1125.5,375.9 1131.5,372.0 1137.5,367.8 1143.5,363.7 1149.5,364.5 1155.5,365.4 1161.5,366.2 1167.5,367.0 1173.5,368.0 1179.5,369.0 1185.5,370.3 1191.5,371.3 1197.5,372.6 1203.5,373.1 1209.5,373.7 1215.5,374.9 1221.5,376.4 1227.5,377.0 1233.5,377.3 1239.5,377.2 1245.5,377.1 1251.5,377.1 1257.5,377.2 1263.5,377.1 1269.5,376.9 1275.5,376.5 1281.5,376.2 1287.5,375.6 1293.5,374.7 1299.5,373.9 1305.5,372.9 1311.5,371.5 1317.5,371.3 1323.5,371.7 1329.5,372.3 1335.5,373.0 1341.5,374.0 1347.5,375.3 1353.5,376.2 1359.5,377.2 1365.5,378.1 1371.5,379.5 1377.5,380.9 1383.5,382.5 1389.5,383.9 1395.5,385.4 1401.5,387.4 1407.5,389.5 1413.5,391.5 1419.5,392.8 1425.5,394.4 1431.5,395.7" fill="none" stroke="#8142b3" stroke-width="1.15" shape-rendering="geometricPrecision"/>
<polyline points="357.5,315.0 363.5,314.2 369.5,313.3 375.5,312.7 381.5,312.6 387.5,312.2 393.5,311.7 399.5,311.6 405.5,310.4 411.5,309.1 417.5,308.6 423.5,308.1 429.5,308.2 435.5,307.6 441.5,306.8 447.5,306.2 453.5,305.1 459.5,300.3 465.5,297.4 471.5,294.1 477.5,292.1 483.5,292.3 489.5,293.4 495.5,292.7 501.5,293.0 507.5,293.0 513.5,294.3 519.5,299.1 525.5,303.2 531.5,308.4 537.5,319.1 543.5,333.6 549.5,344.5 555.5,357.2 561.5,366.9 567.5,375.7 573.5,384.5 579.5,394.2 585.5,405.1 591.5,414.3 597.5,417.4 603.5,415.4 609.5,414.9 615.5,412.9 621.5,413.6 627.5,415.1 633.5,417.6 639.5,417.7 645.5,417.8 651.5,419.9 657.5,422.4 663.5,425.3 669.5,427.7 675.5,432.2 681.5,436.9 687.5,444.6 693.5,452.3 699.5,460.3 705.5,465.5 711.5,471.2 717.5,473.2 723.5,474.4 729.5,477.4 735.5,479.4 741.5,479.0 747.5,477.8 753.5,474.1 759.5,471.3 765.5,469.6 771.5,468.4 777.5,472.6 783.5,477.1 789.5,480.3 795.5,484.5 801.5,488.1 807.5,490.3 813.5,493.5 819.5,496.8 825.5,502.3 831.5,503.0 837.5,501.2 843.5,501.0 849.5,500.5 855.5,498.2 861.5,498.6 867.5,497.9 873.5,496.4 879.5,492.9 885.5,487.2 891.5,485.1 897.5,482.7 903.5,477.8 909.5,473.2 915.5,470.5 921.5,467.1 927.5,464.6 933.5,461.6 939.5,460.6 945.5,460.2 951.5,458.9 957.5,457.6 963.5,455.9 969.5,455.4 975.5,454.1 981.5,453.0 987.5,452.5 993.5,452.8 999.5,453.0 1005.5,454.5 1011.5,455.0 1017.5,454.6 1023.5,455.1 1029.5,454.9 1035.5,454.7 1041.5,451.9 1047.5,448.8 1053.5,446.2 1059.5,436.7 1065.5,426.0 1071.5,416.4 1077.5,407.4 1083.5,398.5 1089.5,389.5 1095.5,380.7 1101.5,374.3 1107.5,367.6 1113.5,362.2 1119.5,363.2 1125.5,363.5 1131.5,363.8 1137.5,364.1 1143.5,364.8 1149.5,366.3 1155.5,367.8 1161.5,369.2 1167.5,370.6 1173.5,370.5 1179.5,370.8 1185.5,372.2 1191.5,373.3 1197.5,374.8 1203.5,376.4 1209.5,377.0 1215.5,377.8 1221.5,379.1 1227.5,379.0 1233.5,378.7 1239.5,378.6 1245.5,377.9 1251.5,377.8 1257.5,377.4 1263.5,376.4 1269.5,375.5 1275.5,374.6 1281.5,373.0 1287.5,372.8 1293.5,372.6 1299.5,372.1 1305.5,371.6 1311.5,370.8 1317.5,370.3 1323.5,370.6 1329.5,371.8 1335.5,372.6 1341.5,374.5 1347.5,376.8 1353.5,378.6 1359.5,380.4 1365.5,382.2 1371.5,385.0 1377.5,387.2 1383.5,388.8 1389.5,389.5 1395.5,390.3 1401.5,390.9 1407.5,391.7 1413.5,393.6 1419.5,395.3 1425.5,397.2 1431.5,398.7" fill="none" stroke="#ad2a40" stroke-width="1.15" shape-rendering="geometricPrecision"/>
<ellipse cx="525" cy="303" rx="4.5" ry="4" fill="#1c1c9c" fill-opacity="0.6" shape-rendering="geometricPrecision"/>
<ellipse cx="783" cy="476" rx="4.5" ry="4" fill="#1c1c9c" fill-opacity="0.6" shape-rendering="geometricPrecision"/>
<ellipse cx="876" cy="491" rx="4.5" ry="4" fill="#1c1c9c" fill-opacity="0.6" shape-rendering="geometricPrecision"/>
<ellipse cx="1042" cy="452" rx="4.5" ry="4" fill="#1c1c9c" fill-opacity="0.6" shape-rendering="geometricPrecision"/>
<ellipse cx="1167" cy="368" rx="4.5" ry="4" fill="#1c1c9c" fill-opacity="0.6" shape-rendering="geometricPrecision"/>
<ellipse cx="1269" cy="374" rx="4.5" ry="4" fill="#1c1c9c" fill-opacity="0.6" shape-rendering="geometricPrecision"/>
<ellipse cx="1341" cy="372" rx="4.5" ry="4" fill="#1c1c9c" fill-opacity="0.6" shape-rendering="geometricPrecision"/>
<rect x="355" y="306.3" width="5" height="1.4" fill="#6aa87a"/>
<rect x="361" y="306.3" width="5" height="1.4" fill="#d05a62"/>
<rect x="367" y="307.0" width="5" height="1.0" fill="#6aa87a"/>
<rect x="373" y="307.0" width="5" height="2.6" fill="#d05a62"/>
<rect x="379" y="309.2" width="5" height="6.6" fill="#d05a62"/>
<rect x="385" y="311.2" width="5" height="4.6" fill="#6aa87a"/>
<rect x="391" y="311.2" width="5" height="1.0" fill="#6aa87a"/>
<rect x="397" y="313.3" width="5" height="1.7" fill="#d05a62"/>
<rect x="405" y="301.3" width="1" height="2.9" fill="#9fb3ad"/>
<rect x="403" y="304.2" width="5" height="10.8" fill="#6aa87a"/>
<rect x="411" y="301.3" width="1" height="1.7" fill="#9fb3ad"/>
<rect x="409" y="303.0" width="5" height="1.6" fill="#6aa87a"/>
<rect x="415" y="301.3" width="5" height="2.5" fill="#6aa87a"/>
<rect x="421" y="301.6" width="5" height="1.0" fill="#d05a62"/>
<rect x="427" y="300.9" width="5" height="7.0" fill="#d05a62"/>
<rect x="433" y="304.2" width="5" height="3.3" fill="#6aa87a"/>
<rect x="439" y="304.2" width="5" height="3.3" fill="#d05a62"/>
<rect x="445" y="305.0" width="5" height="2.5" fill="#6aa87a"/>
<rect x="451" y="300.0" width="5" height="6.3" fill="#6aa87a"/>
<rect x="459" y="260.0" width="1" height="7.8" fill="#9fb3ad"/>
<rect x="457" y="267.8" width="5" height="33.1" fill="#6aa87a"/>
<rect x="463" y="268.6" width="5" height="6.2" fill="#d05a62"/>
<rect x="471" y="262.8" width="1" height="7.1" fill="#9fb3ad"/>
<rect x="469" y="269.9" width="5" height="4.9" fill="#6aa87a"/>
<rect x="475" y="269.9" width="5" height="12.0" fill="#d05a62"/>
<rect x="483" y="304.2" width="1" height="1.8" fill="#9fb3ad"/>
<rect x="481" y="281.0" width="5" height="23.2" fill="#d05a62"/>
<rect x="489" y="318.3" width="1" height="9.5" fill="#9fb3ad"/>
<rect x="487" y="303.8" width="5" height="14.5" fill="#d05a62"/>
<rect x="493" y="298.0" width="5" height="19.8" fill="#6aa87a"/>
<rect x="501" y="289.5" width="1" height="6.5" fill="#9fb3ad"/>
<rect x="499" y="296.0" width="5" height="14.0" fill="#d05a62"/>
<rect x="507" y="302.0" width="1" height="3.4" fill="#9fb3ad"/>
<rect x="507" y="306.2" width="1" height="2.8" fill="#9fb3ad"/>
<rect x="505" y="305.4" width="5" height="1.0" fill="#6aa87a"/>
<rect x="513" y="312.3" width="1" height="22.7" fill="#9fb3ad"/>
<rect x="511" y="305.8" width="5" height="6.5" fill="#d05a62"/>
<rect x="517" y="311.0" width="5" height="5.0" fill="#d05a62"/>
<rect x="525" y="308.0" width="1" height="7.2" fill="#9fb3ad"/>
<rect x="523" y="315.2" width="5" height="1.0" fill="#d05a62"/>
<rect x="529" y="315.6" width="5" height="6.4" fill="#d05a62"/>
<rect x="535" y="323.0" width="5" height="66.0" fill="#d05a62"/>
<rect x="543" y="449.0" width="1" height="6.6" fill="#9fb3ad"/>
<rect x="541" y="388.3" width="5" height="60.7" fill="#d05a62"/>
<rect x="549" y="419.8" width="1" height="7.2" fill="#9fb3ad"/>
<rect x="549" y="445.8" width="1" height="28.2" fill="#9fb3ad"/>
<rect x="547" y="427.0" width="5" height="18.8" fill="#6aa87a"/>
<rect x="555" y="417.6" width="1" height="7.4" fill="#9fb3ad"/>
<rect x="555" y="429.5" width="1" height="12.0" fill="#9fb3ad"/>
<rect x="553" y="425.0" width="5" height="4.5" fill="#6aa87a"/>
<rect x="561" y="385.0" width="1" height="22.8" fill="#9fb3ad"/>
<rect x="561" y="425.0" width="1" height="13.0" fill="#9fb3ad"/>
<rect x="559" y="407.8" width="5" height="17.2" fill="#6aa87a"/>
<rect x="567" y="379.6" width="1" height="13.0" fill="#9fb3ad"/>
<rect x="567" y="407.8" width="1" height="12.0" fill="#9fb3ad"/>
<rect x="565" y="392.6" width="5" height="15.2" fill="#6aa87a"/>
<rect x="573" y="400.2" width="1" height="4.4" fill="#9fb3ad"/>
<rect x="571" y="392.6" width="5" height="7.6" fill="#d05a62"/>
<rect x="579" y="396.0" width="1" height="8.6" fill="#9fb3ad"/>
<rect x="577" y="404.6" width="5" height="8.7" fill="#d05a62"/>
<rect x="585" y="425.2" width="1" height="3.3" fill="#9fb3ad"/>
<rect x="583" y="413.3" width="5" height="11.9" fill="#d05a62"/>
<rect x="591" y="409.0" width="1" height="5.3" fill="#9fb3ad"/>
<rect x="589" y="414.3" width="5" height="10.9" fill="#6aa87a"/>
<rect x="597" y="411.0" width="1" height="3.3" fill="#9fb3ad"/>
<rect x="595" y="414.3" width="5" height="5.5" fill="#d05a62"/>
<rect x="601" y="418.7" width="5" height="9.8" fill="#d05a62"/>
<rect x="607" y="422.0" width="5" height="8.6" fill="#6aa87a"/>
<rect x="613" y="405.7" width="5" height="14.1" fill="#6aa87a"/>
<rect x="621" y="401.3" width="1" height="4.4" fill="#9fb3ad"/>
<rect x="619" y="405.7" width="5" height="8.6" fill="#d05a62"/>
<rect x="627" y="404.6" width="1" height="3.2" fill="#9fb3ad"/>
<rect x="625" y="407.8" width="5" height="4.4" fill="#6aa87a"/>
<rect x="631" y="410.0" width="5" height="15.5" fill="#d05a62"/>
<rect x="637" y="414.0" width="5" height="19.0" fill="#6aa87a"/>
<rect x="643" y="414.7" width="5" height="11.6" fill="#d05a62"/>
<rect x="649" y="426.3" width="5" height="8.3" fill="#d05a62"/>
<rect x="657" y="445.3" width="1" height="4.2" fill="#9fb3ad"/>
<rect x="655" y="437.0" width="5" height="8.3" fill="#d05a62"/>
<rect x="661" y="443.7" width="5" height="14.0" fill="#d05a62"/>
<rect x="669" y="457.7" width="1" height="5.8" fill="#9fb3ad"/>
<rect x="667" y="446.0" width="5" height="11.7" fill="#6aa87a"/>
<rect x="673" y="446.0" width="5" height="5.0" fill="#d05a62"/>
<rect x="681" y="447.8" width="1" height="2.5" fill="#9fb3ad"/>
<rect x="679" y="450.3" width="5" height="10.7" fill="#d05a62"/>
<rect x="687" y="484.2" width="1" height="7.4" fill="#9fb3ad"/>
<rect x="685" y="461.9" width="5" height="22.3" fill="#d05a62"/>
<rect x="693" y="503.2" width="1" height="24.0" fill="#9fb3ad"/>
<rect x="691" y="483.4" width="5" height="19.8" fill="#d05a62"/>
<rect x="699" y="489.0" width="1" height="5.0" fill="#9fb3ad"/>
<rect x="697" y="494.0" width="5" height="7.5" fill="#6aa87a"/>
<rect x="705" y="469.3" width="1" height="8.3" fill="#9fb3ad"/>
<rect x="703" y="477.6" width="5" height="14.9" fill="#6aa87a"/>
<rect x="711" y="471.0" width="1" height="6.6" fill="#9fb3ad"/>
<rect x="709" y="477.6" width="5" height="14.0" fill="#d05a62"/>
<rect x="717" y="464.3" width="1" height="1.7" fill="#9fb3ad"/>
<rect x="715" y="466.0" width="5" height="25.6" fill="#6aa87a"/>
<rect x="723" y="461.0" width="1" height="4.2" fill="#9fb3ad"/>
<rect x="721" y="465.2" width="5" height="4.1" fill="#d05a62"/>
<rect x="729" y="476.0" width="1" height="8.2" fill="#9fb3ad"/>
<rect x="727" y="469.3" width="5" height="6.7" fill="#d05a62"/>
<rect x="733" y="471.0" width="5" height="5.0" fill="#6aa87a"/>
<rect x="739" y="457.0" width="5" height="14.8" fill="#6aa87a"/>
<rect x="745" y="457.0" width="5" height="14.8" fill="#d05a62"/>
<rect x="751" y="466.8" width="5" height="5.0" fill="#6aa87a"/>
<rect x="759" y="459.4" width="1" height="3.3" fill="#9fb3ad"/>
<rect x="757" y="462.7" width="5" height="3.3" fill="#d05a62"/>
<rect x="765" y="452.8" width="1" height="7.4" fill="#9fb3ad"/>
<rect x="763" y="460.2" width="5" height="5.8" fill="#6aa87a"/>
<rect x="771" y="459.7" width="1" height="4.3" fill="#9fb3ad"/>
<rect x="769" y="464.0" width="5" height="15.6" fill="#d05a62"/>
<rect x="777" y="508.7" width="1" height="9.3" fill="#9fb3ad"/>
<rect x="775" y="479.0" width="5" height="29.7" fill="#d05a62"/>
<rect x="783" y="495.0" width="1" height="18.2" fill="#9fb3ad"/>
<rect x="783" y="514.2" width="1" height="4.8" fill="#9fb3ad"/>
<rect x="781" y="513.2" width="5" height="1.0" fill="#d05a62"/>
<rect x="789" y="505.6" width="1" height="2.4" fill="#9fb3ad"/>
<rect x="787" y="508.0" width="5" height="7.0" fill="#6aa87a"/>
<rect x="795" y="498.8" width="1" height="7.2" fill="#9fb3ad"/>
<rect x="793" y="506.0" width="5" height="6.4" fill="#d05a62"/>
<rect x="801" y="486.0" width="1" height="7.8" fill="#9fb3ad"/>
<rect x="801" y="513.7" width="1" height="14.3" fill="#9fb3ad"/>
<rect x="799" y="493.8" width="5" height="19.9" fill="#6aa87a"/>
<rect x="807" y="491.0" width="1" height="2.4" fill="#9fb3ad"/>
<rect x="807" y="494.2" width="1" height="1.8" fill="#9fb3ad"/>
<rect x="805" y="493.4" width="5" height="1.0" fill="#6aa87a"/>
<rect x="813" y="488.2" width="1" height="5.0" fill="#9fb3ad"/>
<rect x="811" y="493.2" width="5" height="5.6" fill="#d05a62"/>
<rect x="819" y="495.7" width="1" height="1.9" fill="#9fb3ad"/>
<rect x="819" y="498.4" width="1" height="6.0" fill="#9fb3ad"/>
<rect x="817" y="497.6" width="5" height="1.0" fill="#d05a62"/>
<rect x="825" y="515.5" width="1" height="7.5" fill="#9fb3ad"/>
<rect x="823" y="499.4" width="5" height="16.1" fill="#d05a62"/>
<rect x="829" y="487.0" width="5" height="29.8" fill="#6aa87a"/>
<rect x="837" y="481.4" width="1" height="5.6" fill="#9fb3ad"/>
<rect x="835" y="487.0" width="5" height="3.7" fill="#d05a62"/>
<rect x="841" y="491.3" width="5" height="20.5" fill="#d05a62"/>
<rect x="849" y="511.8" width="1" height="3.7" fill="#9fb3ad"/>
<rect x="847" y="503.0" width="5" height="8.8" fill="#6aa87a"/>
<rect x="855" y="488.2" width="1" height="1.8" fill="#9fb3ad"/>
<rect x="853" y="490.0" width="5" height="13.7" fill="#6aa87a"/>
<rect x="861" y="497.0" width="1" height="4.3" fill="#9fb3ad"/>
<rect x="859" y="490.0" width="5" height="7.0" fill="#d05a62"/>
<rect x="865" y="486.4" width="5" height="10.6" fill="#6aa87a"/>
<rect x="873" y="474.0" width="1" height="10.0" fill="#9fb3ad"/>
<rect x="871" y="484.0" width="5" height="2.4" fill="#6aa87a"/>
<rect x="879" y="456.0" width="1" height="8.0" fill="#9fb3ad"/>
<rect x="877" y="464.0" width="5" height="21.8" fill="#6aa87a"/>
<rect x="885" y="467.8" width="1" height="6.8" fill="#9fb3ad"/>
<rect x="883" y="457.8" width="5" height="10.0" fill="#6aa87a"/>
<rect x="891" y="466.0" width="1" height="2.4" fill="#9fb3ad"/>
<rect x="889" y="452.9" width="5" height="13.1" fill="#d05a62"/>
<rect x="897" y="462.8" width="1" height="2.5" fill="#9fb3ad"/>
<rect x="897" y="467.0" width="1" height="2.6" fill="#9fb3ad"/>
<rect x="895" y="465.3" width="5" height="1.7" fill="#d05a62"/>
<rect x="901" y="462.8" width="5" height="4.2" fill="#6aa87a"/>
<rect x="909" y="449.0" width="1" height="7.6" fill="#9fb3ad"/>
<rect x="907" y="456.6" width="5" height="6.8" fill="#6aa87a"/>
<rect x="913" y="456.6" width="5" height="6.8" fill="#d05a62"/>
<rect x="919" y="462.6" width="5" height="1.0" fill="#6aa87a"/>
<rect x="925" y="461.0" width="5" height="1.0" fill="#d05a62"/>
<rect x="933" y="449.0" width="1" height="4.1" fill="#9fb3ad"/>
<rect x="931" y="453.1" width="5" height="1.0" fill="#d05a62"/>
<rect x="937" y="453.6" width="5" height="1.0" fill="#d05a62"/>
<rect x="943" y="453.9" width="5" height="1.0" fill="#6aa87a"/>
<rect x="949" y="452.3" width="5" height="2.0" fill="#6aa87a"/>
<rect x="957" y="454.7" width="1" height="1.7" fill="#9fb3ad"/>
<rect x="955" y="452.3" width="5" height="2.4" fill="#d05a62"/>
<rect x="961" y="445.2" width="5" height="9.1" fill="#6aa87a"/>
<rect x="967" y="445.2" width="5" height="6.2" fill="#d05a62"/>
<rect x="973" y="451.0" width="5" height="1.0" fill="#6aa87a"/>
<rect x="981" y="451.8" width="1" height="5.2" fill="#9fb3ad"/>
<rect x="979" y="451.0" width="5" height="1.0" fill="#d05a62"/>
<rect x="985" y="452.3" width="5" height="4.1" fill="#d05a62"/>
<rect x="991" y="456.0" width="5" height="1.0" fill="#d05a62"/>
<rect x="997" y="456.0" width="5" height="1.0" fill="#d05a62"/>
<rect x="1005" y="468.8" width="1" height="5.0" fill="#9fb3ad"/>
<rect x="1003" y="455.6" width="5" height="13.2" fill="#d05a62"/>
<rect x="1011" y="468.8" width="1" height="4.2" fill="#9fb3ad"/>
<rect x="1009" y="457.2" width="5" height="11.6" fill="#6aa87a"/>
<rect x="1015" y="451.0" width="5" height="6.2" fill="#6aa87a"/>
<rect x="1021" y="449.4" width="5" height="1.0" fill="#d05a62"/>
<rect x="1027" y="449.4" width="5" height="1.0" fill="#6aa87a"/>
<rect x="1033" y="448.6" width="5" height="1.0" fill="#6aa87a"/>
<rect x="1041" y="421.7" width="1" height="1.6" fill="#9fb3ad"/>
<rect x="1039" y="423.3" width="5" height="9.1" fill="#6aa87a"/>
<rect x="1047" y="422.0" width="1" height="3.0" fill="#9fb3ad"/>
<rect x="1047" y="426.2" width="1" height="2.8" fill="#9fb3ad"/>
<rect x="1045" y="425.0" width="5" height="1.2" fill="#d05a62"/>
<rect x="1051" y="422.9" width="5" height="7.4" fill="#d05a62"/>
<rect x="1057" y="362.0" width="5" height="3.6" fill="#6aa87a"/>
<rect x="1063" y="361.9" width="5" height="1.0" fill="#6aa87a"/>
<rect x="1069" y="361.0" width="5" height="1.8" fill="#6aa87a"/>
<rect x="1077" y="360.3" width="1" height="0.8" fill="#9fb3ad"/>
<rect x="1075" y="361.1" width="5" height="1.0" fill="#6aa87a"/>
<rect x="1081" y="361.3" width="5" height="1.0" fill="#6aa87a"/>
<rect x="1087" y="359.0" width="5" height="3.0" fill="#6aa87a"/>
<rect x="1093" y="359.0" width="5" height="1.7" fill="#d05a62"/>
<rect x="1099" y="359.2" width="5" height="1.5" fill="#6aa87a"/>
<rect x="1105" y="359.0" width="5" height="1.0" fill="#6aa87a"/>
<rect x="1113" y="376.4" width="1" height="2.1" fill="#9fb3ad"/>
<rect x="1111" y="359.0" width="5" height="17.4" fill="#d05a62"/>
<rect x="1119" y="371.4" width="1" height="1.3" fill="#9fb3ad"/>
<rect x="1117" y="372.7" width="5" height="3.7" fill="#6aa87a"/>
<rect x="1123" y="362.0" width="5" height="2.8" fill="#d05a62"/>
<rect x="1129" y="364.0" width="5" height="1.0" fill="#6aa87a"/>
<rect x="1135" y="364.0" width="5" height="1.0" fill="#6aa87a"/>
<rect x="1143" y="363.2" width="1" height="0.8" fill="#9fb3ad"/>
<rect x="1141" y="364.0" width="5" height="3.7" fill="#d05a62"/>
<rect x="1147" y="367.3" width="5" height="7.4" fill="#d05a62"/>
<rect x="1153" y="374.3" width="5" height="1.3" fill="#d05a62"/>
<rect x="1161" y="371.8" width="1" height="1.2" fill="#9fb3ad"/>
<rect x="1159" y="373.0" width="5" height="2.6" fill="#6aa87a"/>
<rect x="1167" y="373.9" width="1" height="29.0" fill="#9fb3ad"/>
<rect x="1165" y="373.1" width="5" height="1.0" fill="#6aa87a"/>
<rect x="1171" y="373.0" width="5" height="2.6" fill="#d05a62"/>
<rect x="1177" y="375.0" width="5" height="1.0" fill="#6aa87a"/>
<rect x="1183" y="374.7" width="5" height="5.0" fill="#d05a62"/>
<rect x="1189" y="374.7" width="5" height="5.0" fill="#6aa87a"/>
<rect x="1195" y="374.3" width="5" height="4.2" fill="#d05a62"/>
<rect x="1201" y="378.0" width="5" height="5.8" fill="#d05a62"/>
<rect x="1207" y="381.0" width="5" height="2.8" fill="#6aa87a"/>
<rect x="1215" y="383.8" width="1" height="0.9" fill="#9fb3ad"/>
<rect x="1213" y="381.0" width="5" height="2.8" fill="#d05a62"/>
<rect x="1219" y="383.0" width="5" height="3.0" fill="#d05a62"/>
<rect x="1225" y="372.3" width="5" height="13.7" fill="#6aa87a"/>
<rect x="1231" y="372.3" width="5" height="1.0" fill="#6aa87a"/>
<rect x="1237" y="372.3" width="5" height="1.7" fill="#d05a62"/>
<rect x="1243" y="373.1" width="5" height="1.0" fill="#6aa87a"/>
<rect x="1249" y="373.0" width="5" height="1.7" fill="#6aa87a"/>
<rect x="1255" y="373.0" width="5" height="1.7" fill="#d05a62"/>
<rect x="1261" y="373.9" width="5" height="1.0" fill="#6aa87a"/>
<rect x="1267" y="372.3" width="5" height="2.4" fill="#6aa87a"/>
<rect x="1273" y="372.3" width="5" height="1.7" fill="#d05a62"/>
<rect x="1279" y="370.2" width="5" height="3.3" fill="#6aa87a"/>
<rect x="1285" y="370.2" width="5" height="1.0" fill="#6aa87a"/>
<rect x="1293" y="366.5" width="1" height="3.7" fill="#9fb3ad"/>
<rect x="1291" y="370.2" width="5" height="1.0" fill="#6aa87a"/>
<rect x="1297" y="369.0" width="5" height="1.0" fill="#6aa87a"/>
<rect x="1303" y="369.0" width="5" height="1.0" fill="#6aa87a"/>
<rect x="1309" y="364.4" width="5" height="5.4" fill="#6aa87a"/>
<rect x="1315" y="364.4" width="5" height="5.4" fill="#d05a62"/>
<rect x="1321" y="369.2" width="5" height="8.2" fill="#d05a62"/>
<rect x="1327" y="377.0" width="5" height="7.0" fill="#d05a62"/>
<rect x="1333" y="382.3" width="5" height="1.2" fill="#6aa87a"/>
<rect x="1339" y="381.9" width="5" height="6.6" fill="#d05a62"/>
<rect x="1345" y="388.9" width="5" height="4.9" fill="#d05a62"/>
<rect x="1351" y="387.6" width="5" height="5.0" fill="#6aa87a"/>
<rect x="1359" y="384.3" width="1" height="2.9" fill="#9fb3ad"/>
<rect x="1357" y="387.2" width="5" height="1.0" fill="#6aa87a"/>
<rect x="1363" y="387.2" width="5" height="1.0" fill="#6aa87a"/>
<rect x="1369" y="389.3" width="5" height="2.5" fill="#d05a62"/>
<rect x="1377" y="391.8" width="1" height="1.6" fill="#9fb3ad"/>
<rect x="1375" y="391.0" width="5" height="1.0" fill="#d05a62"/>
<rect x="1381" y="392.2" width="5" height="1.2" fill="#d05a62"/>
<rect x="1387" y="391.0" width="5" height="2.8" fill="#6aa87a"/>
<rect x="1393" y="391.0" width="5" height="1.0" fill="#6aa87a"/>
<rect x="1399" y="391.4" width="5" height="3.3" fill="#d05a62"/>
<rect x="1407" y="401.3" width="1" height="3.3" fill="#9fb3ad"/>
<rect x="1405" y="393.0" width="5" height="8.3" fill="#d05a62"/>
<rect x="1411" y="402.0" width="5" height="5.0" fill="#d05a62"/>
<rect x="1417" y="403.8" width="5" height="7.0" fill="#6aa87a"/>
<rect x="1423" y="406.3" width="5" height="1.0" fill="#6aa87a"/>
<rect x="1429" y="405.4" width="5" height="1.6" fill="#d05a62"/>
<rect x="350" y="148" width="1198" height="37" fill="#1a2238"/>
<rect x="412" y="153" width="51" height="28" fill="#2a3553"/>
<text x="368" y="171.5" font-size="12" fill="#5d6888" font-family="Liberation Sans">Time</text>
<text x="423.5" y="171.5" font-size="12" font-weight="bold" fill="#c9d1e2" font-family="Liberation Sans">1min</text>
<text x="479" y="171.5" font-size="12" fill="#5d6888" font-family="Liberation Sans">5min</text>
<text x="535.5" y="171.5" font-size="12" fill="#5d6888" font-family="Liberation Sans">15min</text>
<text x="598" y="171.5" font-size="12" fill="#5d6888" font-family="Liberation Sans">30min</text>
<text x="662" y="171.5" font-size="12" fill="#5d6888" font-family="Liberation Sans">1hour</text>
<text x="722" y="171.5" font-size="12" fill="#5d6888" font-family="Liberation Sans">1day</text>
<text x="778" y="171.5" font-size="12" fill="#5d6888" font-family="Liberation Sans">1week</text>
<text x="842" y="171.5" font-size="12" fill="#5d6888" font-family="Liberation Sans">1mon</text>
<g stroke="#5a6a9a" stroke-width="1.8" fill="none" shape-rendering="geometricPrecision"><path d="M1435 159 L1440 164 M1435 159 H1439 M1435 159 V163 M1451 159 L1446 164 M1451 159 H1447 M1451 159 V163 M1435 175 L1440 170 M1435 175 H1439 M1435 175 V171 M1451 175 L1446 170 M1451 175 H1447 M1451 175 V171"/></g>
<g fill="#5a6a9a" shape-rendering="crispEdges"><rect x="1474" y="170" width="2" height="5"/><rect x="1478" y="167" width="2" height="8"/><rect x="1482" y="169" width="2" height="6"/><rect x="1486" y="165" width="2" height="10"/><rect x="1490" y="162" width="2" height="13"/></g>
<path d="M1474 168 L1479 163 L1483 166 L1491 159" stroke="#5a6a9a" stroke-width="1.2" fill="none" shape-rendering="geometricPrecision"/>
<g shape-rendering="geometricPrecision"><circle cx="1524" cy="168" r="6.5" fill="none" stroke="#5a6a9a" stroke-width="2.6" stroke-dasharray="2.6,2.5"/><circle cx="1524" cy="168" r="4.2" fill="none" stroke="#5a6a9a" stroke-width="2.6"/></g>
<rect x="360.5" y="201.5" width="11" height="11" fill="none" stroke="#6d7893" stroke-width="1"/><rect x="363" y="206" width="6" height="1.2" fill="#6d7893"/>
<text x="379" y="213" font-size="15" fill="#6d7893" font-family="Liberation Sans">BTC/USDT, 1</text>
<rect x="487" y="200" width="14" height="14" fill="#2e374f"/><circle cx="494" cy="207" r="3.5" fill="none" stroke="#56607a" stroke-width="2"/>
<text x="508" y="213" font-size="14" font-family="Liberation Sans"><tspan fill="#6d7893">开=</tspan><tspan fill="#d05a62">40272.74000</tspan></text>
<text x="624" y="213" font-size="14" font-family="Liberation Sans"><tspan fill="#6d7893">高=</tspan><tspan fill="#d05a62">40281.63000</tspan></text>
<text x="742" y="213" font-size="14" font-family="Liberation Sans"><tspan fill="#6d7893">低=</tspan><tspan fill="#d05a62">40259.29000</tspan></text>
<text x="858" y="213" font-size="14" font-family="Liberation Sans"><tspan fill="#6d7893">收=</tspan><tspan fill="#d05a62">40263.18000</tspan></text>
<text x="360" y="231" font-size="12" fill="#5f6a86" font-family="Liberation Sans">MA (15, close, 0)</text>
<text x="360" y="251" font-size="12" fill="#5f6a86" font-family="Liberation Sans">MA Cross (10, 20)</text>
<rect x="465" y="241" width="13" height="13" fill="#2e374f"/><rect x="482" y="241" width="13" height="13" fill="#2e374f"/><path d="M485 244 L492 251 M492 244 L485 251" stroke="#56607a" stroke-width="1.5"/>
<text x="360" y="566" font-size="12" fill="#5f6a86" font-family="Liberation Sans">Volume (20)</text>
<rect x="436" y="556" width="13" height="13" fill="#2e374f"/><rect x="453" y="556" width="13" height="13" fill="#2e374f"/><path d="M456 559 L463 566 M463 559 L456 566" stroke="#56607a" stroke-width="1.5"/><circle cx="442.5" cy="562.5" r="3" fill="none" stroke="#56607a" stroke-width="1.6"/>
<rect x="1428" y="215" width="13" height="14" fill="#2e374f"/><rect x="1445" y="215" width="13" height="14" fill="#2e374f"/>
<path d="M1434.5 218 V226 M1432 226 H1437 M1451.5 218 V226 M1449 226 H1454" stroke="#151b2b" stroke-width="1"/>
<line x1="355" y1="400.5" x2="1465" y2="400.5" stroke="#ffffff" stroke-width="1" stroke-dasharray="6,5"/>
<line x1="355" y1="406.5" x2="1465" y2="406.5" stroke="#c9909c" stroke-width="1" stroke-dasharray="2,1"/>
<line x1="1414.5" y1="187" x2="1414.5" y2="657" stroke="#ffffff" stroke-width="1" stroke-dasharray="6,5"/>
<rect x="1466" y="400" width="75" height="14.5" fill="#cf5159"/>
<text x="1503.5" y="411" font-size="11" font-weight="bold" fill="#ffffff" font-family="Liberation Sans" text-anchor="middle">40263.18000</text>
<rect x="1466" y="393" width="75" height="14.5" fill="#5a5e69"/>
<text x="1503.5" y="404.5" font-size="11" font-weight="bold" fill="#ffffff" font-family="Liberation Sans" text-anchor="middle">40277.11309</text>
<rect x="1354" y="659" width="110" height="18" fill="#5c6170"/>
<text x="1409" y="672" font-size="11" font-weight="bold" fill="#ffffff" font-family="Liberation Sans" text-anchor="middle">2022-04-17 15:37:00</text>
</svg>
</div>

<div class="a panel" style="left:350px;top:693px;width:1198px;height:280px">
  <div class="a" style="left:0;top:0;width:983px;height:48px;background:#eff1f6"></div>
  <div class="a panel" style="left:0;top:0;width:58px;height:48px"></div>
  <div class="a" style="left:15px;top:17px;font-size:13px;color:#333;line-height:15px">出价</div>
  <div class="a" style="left:988px;top:16px;font-size:14px;color:#2aab84;line-height:16px;letter-spacing:0.4px">40260.62</div>
  <div class="a" style="left:1060px;top:16px;font-size:14px;color:#333;line-height:16px;letter-spacing:0.3px">≈ 257667.9680 CNY</div>
</div>
<div class="a" style="left:360px;top:752px;width:571px;height:35px;background:#f1f2f6"></div>
<div class="a ob" style="left:370px;top:763px">买入</div>
<div class="a ob" style="left:760px;top:763px;width:161px;text-align:right">总量:BTC 4.9710</div>
<div class="a obh" style="left:405px;top:799px;width:100px;text-align:center">方向</div>
<div class="a obh" style="left:595px;top:799px;width:100px;text-align:center">价格(USDT)</div>
<div class="a obh" style="left:785px;top:799px;width:100px;text-align:center">数量(BTC)</div>
<div class="a" style="left:360px;top:823px;width:571px;height:25px;background:#e1f3d4"></div>
<div class="a ob" style="left:405px;top:829px;width:100px;text-align:center;color:#1aa57a">买 1</div>
<div class="a ob" style="left:595px;top:829px;width:100px;text-align:center">40296.3600</div>
<div class="a ob" style="left:785px;top:829px;width:100px;text-align:center">0.8968</div>
<div class="a" style="left:929px;top:851px;width:2px;height:25px;background:#e1f3d4"></div>
<div class="a ob" style="left:405px;top:857px;width:100px;text-align:center;color:#1aa57a">买 2</div>
<div class="a ob" style="left:595px;top:857px;width:100px;text-align:center">40295.7600</div>
<div class="a ob" style="left:785px;top:857px;width:100px;text-align:center">0.0019</div>
<div class="a" style="left:360px;top:879px;width:571px;height:25px;background:#e1f3d4"></div>
<div class="a ob" style="left:405px;top:885px;width:100px;text-align:center;color:#1aa57a">买 3</div>
<div class="a ob" style="left:595px;top:885px;width:100px;text-align:center">40293.6300</div>
<div class="a ob" style="left:785px;top:885px;width:100px;text-align:center">2.8508</div>
<div class="a" style="left:360px;top:907px;width:571px;height:25px;background:#e1f3d4"></div>
<div class="a ob" style="left:405px;top:913px;width:100px;text-align:center;color:#1aa57a">买 4</div>
<div class="a ob" style="left:595px;top:913px;width:100px;text-align:center">40293.6200</div>
<div class="a ob" style="left:785px;top:913px;width:100px;text-align:center">0.6029</div>
<div class="a ob" style="left:405px;top:941px;width:100px;text-align:center;color:#1aa57a">买 5</div>
<div class="a ob" style="left:595px;top:941px;width:100px;text-align:center">40292.6300</div>
<div class="a ob" style="left:785px;top:941px;width:100px;text-align:center">0.0002</div>
<div class="a" style="left:856px;top:963px;width:75px;height:25px;background:#e1f3d4"></div>
<div class="a" style="left:967px;top:752px;width:570px;height:35px;background:#f1f2f6"></div>
<div class="a ob" style="left:977px;top:763px">卖出</div>
<div class="a ob" style="left:1367px;top:763px;width:161px;text-align:right">总量:BTC 3.0614</div>
<div class="a obh" style="left:1013px;top:798px;width:100px;text-align:center">方向</div>
<div class="a obh" style="left:1205px;top:798px;width:100px;text-align:center">价格(USDT)</div>
<div class="a obh" style="left:1399px;top:798px;width:100px;text-align:center">数量(BTC)</div>
<div class="a" style="left:967px;top:823px;width:186px;height:25px;background:#fbe7ee"></div>
<div class="a ob" style="left:1012px;top:829px;width:100px;text-align:center;color:#c0464f">卖 1</div>
<div class="a ob" style="left:1202px;top:829px;width:100px;text-align:center">40430.8300</div>
<div class="a ob" style="left:1392px;top:829px;width:100px;text-align:center">0.1000</div>
<div class="a" style="left:967px;top:851px;width:1px;height:25px;background:#fbe7ee"></div>
<div class="a ob" style="left:1012px;top:857px;width:100px;text-align:center;color:#c0464f">卖 2</div>
<div class="a ob" style="left:1202px;top:857px;width:100px;text-align:center">40430.6400</div>
<div class="a ob" style="left:1392px;top:857px;width:100px;text-align:center">0.0002</div>
<div class="a" style="left:967px;top:879px;width:25px;height:25px;background:#fbe7ee"></div>
<div class="a ob" style="left:1012px;top:885px;width:100px;text-align:center;color:#c0464f">卖 3</div>
<div class="a ob" style="left:1202px;top:885px;width:100px;text-align:center">40427.1400</div>
<div class="a ob" style="left:1392px;top:885px;width:100px;text-align:center">0.0135</div>
<div class="a" style="left:967px;top:907px;width:1px;height:25px;background:#fbe7ee"></div>
<div class="a ob" style="left:1012px;top:913px;width:100px;text-align:center;color:#c0464f">卖 4</div>
<div class="a ob" style="left:1202px;top:913px;width:100px;text-align:center">40422.9400</div>
<div class="a ob" style="left:1392px;top:913px;width:100px;text-align:center">0.0002</div>
<div class="a" style="left:967px;top:935px;width:570px;height:25px;background:#fbe7ee"></div>
<div class="a ob" style="left:1012px;top:941px;width:100px;text-align:center;color:#c0464f">卖 5</div>
<div class="a ob" style="left:1202px;top:941px;width:100px;text-align:center">40418.7000</div>
<div class="a ob" style="left:1392px;top:941px;width:100px;text-align:center">1.6500</div>
<div class="a" style="left:967px;top:963px;width:8px;height:25px;background:#fbe7ee"></div>

<!-- right column -->
<div class="a panel" style="left:1561px;top:77px;width:330px;height:381px">
  <div class="a" style="left:0;top:0;width:330px;height:40px;background:#eff1f5"></div>
  <div class="a panel" style="left:94px;top:0;width:94px;height:40px"></div>
  <div class="a" style="left:15px;top:13px;font-size:16px;color:#555;line-height:18px">市价交易</div>
  <div class="a" style="left:109px;top:13px;font-size:16px;color:#3d5c8f;line-height:18px">限价交易</div>
  <div class="a" style="left:244px;top:13px;font-size:16px;color:#555;line-height:18px">委托订单</div>
  <div class="a" style="left:49px;top:54px;font-size:16px;color:#3d5c8f;line-height:18px">买入 BTC</div>
  <div class="a" style="left:214px;top:54px;font-size:16px;color:#444;line-height:18px">卖出 BTC</div>
  <div class="a" style="left:0;top:81px;width:165px;height:2px;background:#2f4c78"></div>
  <div class="a" style="left:15px;top:99px;font-size:14px;color:#555;line-height:16px">可用 30846.2762 USDT</div>
  <div class="a" style="left:15px;top:129px;width:299px;height:1px;background:#d9dce2"></div>
  <div class="a" style="left:15px;top:152px;font-size:14px;color:#555;line-height:16px">买入价</div>
  <div class="a" style="left:75px;top:146px;width:238px;height:38px;border:1px solid #d6d9df;border-radius:3px"></div>
  <div class="a" style="left:256px;top:157px;font-size:15px;color:#555;line-height:17px">USDT</div>
  <div class="a" style="left:15px;top:205px;font-size:14px;color:#555;line-height:16px">买入量</div>
  <div class="a" style="left:75px;top:199px;width:238px;height:38px;border:1px solid #d6d9df;border-radius:3px"></div>
  <div class="a" style="left:94px;top:210px;font-size:14px;color:#333;line-height:16px">0</div>
  <div class="a" style="left:270px;top:210px;font-size:15px;color:#555;line-height:17px">BTC</div>
  <div class="a" style="left:22px;top:253px;width:292px;height:6px;background:#e6e9f1;border-radius:3px"></div>
  <div class="a" style="left:88px;top:253px;width:4px;height:6px;background:#fff"></div>
  <div class="a" style="left:163px;top:253px;width:4px;height:6px;background:#fff"></div>
  <div class="a" style="left:238px;top:253px;width:4px;height:6px;background:#fff"></div>
  <div class="a" style="left:7px;top:248px;width:16px;height:16px;border:2px solid #4a8ee0;border-radius:50%;background:#fff"></div>
  <div class="a" style="left:15px;top:287px;font-size:16px;color:#555;line-height:18px">交易额 0.0000 USDT</div>
  <div class="a" style="left:15px;top:316px;width:299px;height:40px;background:#17b685;border-radius:3px"></div>
  <div class="a" style="left:15px;top:327px;width:299px;text-align:center;font-size:15px;color:#fff;line-height:17px">买入BTC</div>
</div>
<div class="a panel" style="left:1561px;top:468px;width:330px;height:419px">
  <div class="a" style="left:0;top:0;width:330px;height:39px;background:#eff1f5"></div>
  <div class="a panel" style="left:0;top:0;width:85px;height:39px"></div>
  <div class="a" style="left:15px;top:12px;font-size:14px;color:#3d5c8f;line-height:16px">全站交易</div>
  <div class="a" style="left:43px;top:44px;font-size:12px;color:#555;line-height:14px">时间</div>
  <div class="a" style="left:153px;top:44px;font-size:12px;color:#555;line-height:14px">价格</div>
  <div class="a" style="left:258px;top:44px;font-size:12px;color:#555;line-height:14px">交易量</div>
</div>
<svg class="a" style="left:0;top:0;pointer-events:none" width="1917" height="967" viewBox="0 0 1917 967">
<text x="-250" y="80" transform="rotate(46 -250 80)" font-family="Liberation Mono" font-size="26" letter-spacing="2.0" fill="#ffffff" fill-opacity="0.5">vip.9fym.com</text>
<text x="-107" y="-62" transform="rotate(46 -107 -62)" font-family="Liberation Mono" font-size="26" letter-spacing="2.0" fill="#ffffff" fill-opacity="0.5">vip.9fym.com</text>
<text x="36" y="-204" transform="rotate(46 36 -204)" font-family="Liberation Mono" font-size="26" letter-spacing="2.0" fill="#ffffff" fill-opacity="0.5">vip.9fym.com</text>
<text x="-238" y="669" transform="rotate(46 -238 669)" font-family="Liberation Mono" font-size="26" letter-spacing="2.0" fill="#ffffff" fill-opacity="0.5">vip.9fym.com</text>
<text x="-95" y="527" transform="rotate(46 -95 527)" font-family="Liberation Mono" font-size="26" letter-spacing="2.0" fill="#ffffff" fill-opacity="0.5">vip.9fym.com</text>
<text x="48" y="385" transform="rotate(46 48 385)" font-family="Liberation Mono" font-size="26" letter-spacing="2.0" fill="#ffffff" fill-opacity="0.5">vip.9fym.com</text>
<text x="191" y="243" transform="rotate(46 191 243)" font-family="Liberation Mono" font-size="26" letter-spacing="2.0" fill="#ffffff" fill-opacity="0.5">vip.9fym.com</text>
<text x="334" y="101" transform="rotate(46 334 101)" font-family="Liberation Mono" font-size="26" letter-spacing="2.0" fill="#ffffff" fill-opacity="0.5">vip.9fym.com</text>
<text x="477" y="-41" transform="rotate(46 477 -41)" font-family="Liberation Mono" font-size="26" letter-spacing="2.0" fill="#ffffff" fill-opacity="0.5">vip.9fym.com</text>
<text x="620" y="-183" transform="rotate(46 620 -183)" font-family="Liberation Mono" font-size="26" letter-spacing="2.0" fill="#ffffff" fill-opacity="0.5">vip.9fym.com</text>
<text x="60" y="974" transform="rotate(46 60 974)" font-family="Liberation Mono" font-size="26" letter-spacing="2.0" fill="#ffffff" fill-opacity="0.5">vip.9fym.com</text>
<text x="203" y="832" transform="rotate(46 203 832)" font-family="Liberation Mono" font-size="26" letter-spacing="2.0" fill="#ffffff" fill-opacity="0.5">vip.9fym.com</text>
<text x="346" y="690" transform="rotate(46 346 690)" font-family="Liberation Mono" font-size="26" letter-spacing="2.0" fill="#ffffff" fill-opacity="0.5">vip.9fym.com</text>
<text x="489" y="548" transform="rotate(46 489 548)" font-family="Liberation Mono" font-size="26" letter-spacing="2.0" fill="#ffffff" fill-opacity="0.5">vip.9fym.com</text>
<text x="632" y="406" transform="rotate(46 632 406)" font-family="Liberation Mono" font-size="26" letter-spacing="2.0" fill="#ffffff" fill-opacity="0.5">vip.9fym.com</text>
<text x="775" y="264" transform="rotate(46 775 264)" font-family="Liberation Mono" font-size="26" letter-spacing="2.0" fill="#ffffff" fill-opacity="0.5">vip.9fym.com</text>
<text x="918" y="122" transform="rotate(46 918 122)" font-family="Liberation Mono" font-size="26" letter-spacing="2.0" fill="#ffffff" fill-opacity="0.5">vip.9fym.com</text>
<text x="1061" y="-20" transform="rotate(46 1061 -20)" font-family="Liberation Mono" font-size="26" letter-spacing="2.0" fill="#ffffff" fill-opacity="0.5">vip.9fym.com</text>
<text x="1204" y="-162" transform="rotate(46 1204 -162)" font-family="Liberation Mono" font-size="26" letter-spacing="2.0" fill="#ffffff" fill-opacity="0.5">vip.9fym.com</text>
<text x="644" y="995" transform="rotate(46 644 995)" font-family="Liberation Mono" font-size="26" letter-spacing="2.0" fill="#ffffff" fill-opacity="0.5">vip.9fym.com</text>
<text x="787" y="853" transform="rotate(46 787 853)" font-family="Liberation Mono" font-size="26" letter-spacing="2.0" fill="#ffffff" fill-opacity="0.5">vip.9fym.com</text>
<text x="930" y="711" transform="rotate(46 930 711)" font-family="Liberation Mono" font-size="26" letter-spacing="2.0" fill="#ffffff" fill-opacity="0.5">vip.9fym.com</text>
<text x="1073" y="569" transform="rotate(46 1073 569)" font-family="Liberation Mono" font-size="26" letter-spacing="2.0" fill="#ffffff" fill-opacity="0.5">vip.9fym.com</text>
<text x="1216" y="427" transform="rotate(46 1216 427)" font-family="Liberation Mono" font-size="26" letter-spacing="2.0" fill="#ffffff" fill-opacity="0.5">vip.9fym.com</text>
<text x="1359" y="285" transform="rotate(46 1359 285)" font-family="Liberation Mono" font-size="26" letter-spacing="2.0" fill="#ffffff" fill-opacity="0.5">vip.9fym.com</text>
<text x="1502" y="143" transform="rotate(46 1502 143)" font-family="Liberation Mono" font-size="26" letter-spacing="2.0" fill="#ffffff" fill-opacity="0.5">vip.9fym.com</text>
<text x="1645" y="1" transform="rotate(46 1645 1)" font-family="Liberation Mono" font-size="26" letter-spacing="2.0" fill="#ffffff" fill-opacity="0.5">vip.9fym.com</text>
<text x="1788" y="-141" transform="rotate(46 1788 -141)" font-family="Liberation Mono" font-size="26" letter-spacing="2.0" fill="#ffffff" fill-opacity="0.5">vip.9fym.com</text>
<text x="1371" y="874" transform="rotate(46 1371 874)" font-family="Liberation Mono" font-size="26" letter-spacing="2.0" fill="#ffffff" fill-opacity="0.5">vip.9fym.com</text>
<text x="1514" y="732" transform="rotate(46 1514 732)" font-family="Liberation Mono" font-size="26" letter-spacing="2.0" fill="#ffffff" fill-opacity="0.5">vip.9fym.com</text>
<text x="1657" y="590" transform="rotate(46 1657 590)" font-family="Liberation Mono" font-size="26" letter-spacing="2.0" fill="#ffffff" fill-opacity="0.5">vip.9fym.com</text>
<text x="1800" y="448" transform="rotate(46 1800 448)" font-family="Liberation Mono" font-size="26" letter-spacing="2.0" fill="#ffffff" fill-opacity="0.5">vip.9fym.com</text>
<text x="1943" y="306" transform="rotate(46 1943 306)" font-family="Liberation Mono" font-size="26" letter-spacing="2.0" fill="#ffffff" fill-opacity="0.5">vip.9fym.com</text>
<text x="885" y="548" transform="rotate(-29 885 548)" font-family="Liberation Sans" font-weight="bold" font-size="48" letter-spacing="2.5" fill="#8d909c" fill-opacity="0.7">u6ki.me</text>
</svg>
</body></html>
